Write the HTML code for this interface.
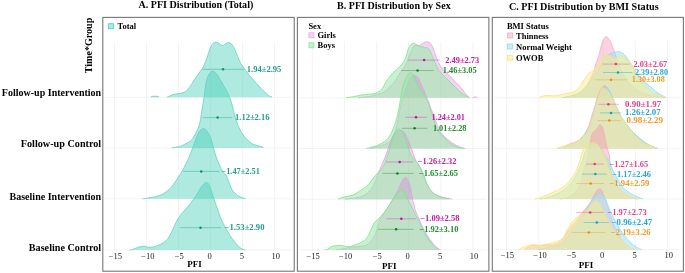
<!DOCTYPE html>
<html><head><meta charset="utf-8"><title>PFI Distribution</title>
<style>html,body{margin:0;padding:0;background:#fff;}svg{display:block;}</style>
</head><body>
<svg width="685" height="273" viewBox="0 0 685 273">
<style>
text{font-family:"Liberation Serif","Times New Roman",serif;}
.t{font-weight:bold;font-size:10.4px;fill:#000;}
.y{font-weight:bold;font-size:10.9px;fill:#000;}
.v{font-weight:bold;font-size:8.5px;stroke-width:0;}
.tk{font-size:8.5px;fill:#222;}
.lg{font-weight:bold;font-size:8.5px;fill:#000;}
.ax{font-weight:bold;font-size:9px;fill:#000;}
</style>
<rect width="685" height="273" fill="#fff"/>
<text x="138.5" y="8.2" class="t" textLength="114.8" lengthAdjust="spacingAndGlyphs">A. PFI Distribution (Total)</text>
<text x="337.1" y="8.8" class="t" textLength="113.6" lengthAdjust="spacingAndGlyphs">B. PFI Distribution by Sex</text>
<text x="508.9" y="9.8" class="t" textLength="149.7" lengthAdjust="spacingAndGlyphs">C. PFI Distribution by BMI Status</text>
<text x="1.8" y="95.9" class="y" textLength="99.4" lengthAdjust="spacingAndGlyphs">Follow-up Intervention</text>
<text x="20.8" y="147.4" class="y" textLength="80.4" lengthAdjust="spacingAndGlyphs">Follow-up Control</text>
<text x="9.5" y="199.7" class="y" textLength="91.7" lengthAdjust="spacingAndGlyphs">Baseline Intervention</text>
<text x="28.8" y="250.6" class="y" textLength="72.4" lengthAdjust="spacingAndGlyphs">Baseline Control</text>
<text transform="translate(92.2,73.3) rotate(-90)" class="y" style="font-size:10.6px" textLength="55.6" lengthAdjust="spacingAndGlyphs">Time*Group</text>
<line x1="114.54" y1="42.3" x2="114.54" y2="251.1" stroke="#ebebeb" stroke-width="0.6"/>
<line x1="146.56" y1="42.3" x2="146.56" y2="251.1" stroke="#ebebeb" stroke-width="0.6"/>
<line x1="178.58" y1="42.3" x2="178.58" y2="251.1" stroke="#ebebeb" stroke-width="0.6"/>
<line x1="210.60" y1="42.3" x2="210.60" y2="251.1" stroke="#ebebeb" stroke-width="0.6"/>
<line x1="242.62" y1="42.3" x2="242.62" y2="251.1" stroke="#ebebeb" stroke-width="0.6"/>
<line x1="274.64" y1="42.3" x2="274.64" y2="251.1" stroke="#ebebeb" stroke-width="0.6"/>
<line x1="104.8" y1="97.3" x2="291.8" y2="97.3" stroke="#ebebeb" stroke-width="0.6"/>
<line x1="104.8" y1="148.0" x2="291.8" y2="148.0" stroke="#ebebeb" stroke-width="0.6"/>
<line x1="104.8" y1="198.8" x2="291.8" y2="198.8" stroke="#ebebeb" stroke-width="0.6"/>
<line x1="104.8" y1="250.1" x2="291.8" y2="250.1" stroke="#ebebeb" stroke-width="0.6"/>
<line x1="312.34" y1="41.3" x2="312.34" y2="250.9" stroke="#ebebeb" stroke-width="0.6"/>
<line x1="344.46" y1="41.3" x2="344.46" y2="250.9" stroke="#ebebeb" stroke-width="0.6"/>
<line x1="376.58" y1="41.3" x2="376.58" y2="250.9" stroke="#ebebeb" stroke-width="0.6"/>
<line x1="408.70" y1="41.3" x2="408.70" y2="250.9" stroke="#ebebeb" stroke-width="0.6"/>
<line x1="440.82" y1="41.3" x2="440.82" y2="250.9" stroke="#ebebeb" stroke-width="0.6"/>
<line x1="472.94" y1="41.3" x2="472.94" y2="250.9" stroke="#ebebeb" stroke-width="0.6"/>
<line x1="299.5" y1="97.8" x2="486.9" y2="97.8" stroke="#ebebeb" stroke-width="0.6"/>
<line x1="299.5" y1="148.5" x2="486.9" y2="148.5" stroke="#ebebeb" stroke-width="0.6"/>
<line x1="299.5" y1="199.2" x2="486.9" y2="199.2" stroke="#ebebeb" stroke-width="0.6"/>
<line x1="299.5" y1="249.9" x2="486.9" y2="249.9" stroke="#ebebeb" stroke-width="0.6"/>
<line x1="506.64" y1="40.5" x2="506.64" y2="250.6" stroke="#ebebeb" stroke-width="0.6"/>
<line x1="538.81" y1="40.5" x2="538.81" y2="250.6" stroke="#ebebeb" stroke-width="0.6"/>
<line x1="570.98" y1="40.5" x2="570.98" y2="250.6" stroke="#ebebeb" stroke-width="0.6"/>
<line x1="603.15" y1="40.5" x2="603.15" y2="250.6" stroke="#ebebeb" stroke-width="0.6"/>
<line x1="635.32" y1="40.5" x2="635.32" y2="250.6" stroke="#ebebeb" stroke-width="0.6"/>
<line x1="667.49" y1="40.5" x2="667.49" y2="250.6" stroke="#ebebeb" stroke-width="0.6"/>
<line x1="494.1" y1="97.7" x2="681.8" y2="97.7" stroke="#ebebeb" stroke-width="0.6"/>
<line x1="494.1" y1="148.4" x2="681.8" y2="148.4" stroke="#ebebeb" stroke-width="0.6"/>
<line x1="494.1" y1="199.0" x2="681.8" y2="199.0" stroke="#ebebeb" stroke-width="0.6"/>
<line x1="494.1" y1="249.6" x2="681.8" y2="249.6" stroke="#ebebeb" stroke-width="0.6"/>
<path d="M150.8,97.3 C150.9,97.2 151.0,96.7 151.4,96.5 C151.8,96.3 152.4,96.3 153.0,96.3 C153.6,96.3 154.3,96.3 155.0,96.3 C155.7,96.3 156.4,96.3 157.0,96.3 C157.6,96.3 158.2,96.3 158.5,96.5 C158.8,96.7 159.0,97.2 159.1,97.3 L159.1,97.3 L150.8,97.3 Z" fill="rgba(64,206,182,0.42)"/><path d="M150.8,97.3 C150.9,97.2 151.0,96.7 151.4,96.5 C151.8,96.3 152.4,96.3 153.0,96.3 C153.6,96.3 154.3,96.3 155.0,96.3 C155.7,96.3 156.4,96.3 157.0,96.3 C157.6,96.3 158.2,96.3 158.5,96.5 C158.8,96.7 159.0,97.2 159.1,97.3" fill="none" stroke="#5fd3bf" stroke-width="0.8"/>
<path d="M166.7,97.3 C167.2,97.1 168.5,96.6 169.5,96.2 C170.5,95.8 171.9,95.1 172.9,94.7 C173.9,94.3 174.7,94.2 175.5,94.0 C176.3,93.8 177.0,93.8 178.0,93.6 C179.0,93.4 180.6,93.3 181.7,93.1 C182.8,92.8 183.8,92.5 184.6,92.1 C185.4,91.7 185.9,91.2 186.5,90.7 C187.1,90.2 187.7,89.5 188.3,88.8 C188.9,88.1 189.6,87.1 190.2,86.3 C190.8,85.5 191.2,84.8 191.9,83.7 C192.6,82.7 193.3,81.2 194.1,80.0 C194.9,78.8 195.7,77.6 196.5,76.5 C197.3,75.4 197.8,74.7 198.8,73.3 C199.8,71.9 201.7,69.8 202.7,68.1 C203.7,66.4 204.3,64.5 205.0,63.0 C205.7,61.5 206.0,60.7 206.7,58.8 C207.4,56.9 208.2,53.7 209.0,51.5 C209.8,49.3 210.6,47.2 211.4,45.7 C212.2,44.2 213.0,43.4 213.8,42.8 C214.6,42.2 215.3,42.0 216.2,42.1 C217.1,42.2 217.9,42.9 219.0,43.5 C220.1,44.1 221.4,45.5 222.6,45.5 C223.8,45.5 225.0,44.0 226.0,43.5 C227.0,43.0 227.9,42.5 228.8,42.6 C229.7,42.7 230.6,43.1 231.5,44.0 C232.4,44.9 233.2,46.6 234.0,48.0 C234.8,49.4 235.4,51.1 236.0,52.5 C236.6,53.9 236.9,54.8 237.6,56.4 C238.3,58.0 239.2,60.4 240.0,62.0 C240.8,63.6 241.4,64.5 242.4,66.0 C243.4,67.5 244.8,69.4 246.0,71.0 C247.2,72.6 248.2,73.9 249.5,75.5 C250.8,77.1 252.4,78.7 254.0,80.5 C255.6,82.3 257.5,84.5 259.0,86.2 C260.5,87.9 261.8,89.3 263.0,90.5 C264.2,91.7 265.1,92.4 266.2,93.3 C267.3,94.2 268.5,95.3 269.5,96.0 C270.5,96.7 271.7,97.1 272.1,97.3 L272.1,97.3 L166.7,97.3 Z" fill="rgba(64,206,182,0.42)"/><path d="M166.7,97.3 C167.2,97.1 168.5,96.6 169.5,96.2 C170.5,95.8 171.9,95.1 172.9,94.7 C173.9,94.3 174.7,94.2 175.5,94.0 C176.3,93.8 177.0,93.8 178.0,93.6 C179.0,93.4 180.6,93.3 181.7,93.1 C182.8,92.8 183.8,92.5 184.6,92.1 C185.4,91.7 185.9,91.2 186.5,90.7 C187.1,90.2 187.7,89.5 188.3,88.8 C188.9,88.1 189.6,87.1 190.2,86.3 C190.8,85.5 191.2,84.8 191.9,83.7 C192.6,82.7 193.3,81.2 194.1,80.0 C194.9,78.8 195.7,77.6 196.5,76.5 C197.3,75.4 197.8,74.7 198.8,73.3 C199.8,71.9 201.7,69.8 202.7,68.1 C203.7,66.4 204.3,64.5 205.0,63.0 C205.7,61.5 206.0,60.7 206.7,58.8 C207.4,56.9 208.2,53.7 209.0,51.5 C209.8,49.3 210.6,47.2 211.4,45.7 C212.2,44.2 213.0,43.4 213.8,42.8 C214.6,42.2 215.3,42.0 216.2,42.1 C217.1,42.2 217.9,42.9 219.0,43.5 C220.1,44.1 221.4,45.5 222.6,45.5 C223.8,45.5 225.0,44.0 226.0,43.5 C227.0,43.0 227.9,42.5 228.8,42.6 C229.7,42.7 230.6,43.1 231.5,44.0 C232.4,44.9 233.2,46.6 234.0,48.0 C234.8,49.4 235.4,51.1 236.0,52.5 C236.6,53.9 236.9,54.8 237.6,56.4 C238.3,58.0 239.2,60.4 240.0,62.0 C240.8,63.6 241.4,64.5 242.4,66.0 C243.4,67.5 244.8,69.4 246.0,71.0 C247.2,72.6 248.2,73.9 249.5,75.5 C250.8,77.1 252.4,78.7 254.0,80.5 C255.6,82.3 257.5,84.5 259.0,86.2 C260.5,87.9 261.8,89.3 263.0,90.5 C264.2,91.7 265.1,92.4 266.2,93.3 C267.3,94.2 268.5,95.3 269.5,96.0 C270.5,96.7 271.7,97.1 272.1,97.3" fill="none" stroke="#5fd3bf" stroke-width="0.8"/>
<path d="M171.6,148.0 C172.5,147.8 175.2,147.4 177.0,147.0 C178.8,146.6 180.8,146.1 182.5,145.4 C184.2,144.7 185.4,143.9 187.0,143.0 C188.6,142.1 190.2,141.6 191.8,139.8 C193.4,138.0 195.2,134.6 196.5,132.0 C197.8,129.4 198.8,127.1 199.6,124.2 C200.4,121.3 200.7,117.9 201.2,114.8 C201.7,111.7 202.2,108.6 202.7,105.5 C203.2,102.4 203.8,99.8 204.3,96.2 C204.8,92.6 205.0,87.4 205.8,83.7 C206.6,80.0 207.7,76.4 208.9,74.3 C210.1,72.2 211.7,71.2 213.0,71.2 C214.3,71.2 215.4,72.7 216.5,74.0 C217.6,75.3 218.7,77.2 219.8,79.0 C220.9,80.8 221.9,82.7 223.0,84.5 C224.1,86.3 225.1,88.0 226.1,89.9 C227.1,91.9 228.2,93.6 229.2,96.2 C230.2,98.8 231.4,102.4 232.3,105.5 C233.2,108.6 233.6,111.7 234.5,114.8 C235.4,117.9 236.1,120.8 237.5,124.2 C238.9,127.6 240.9,131.9 243.2,135.0 C245.4,138.1 248.7,141.2 251.0,142.9 C253.3,144.7 255.2,144.8 257.0,145.5 C258.8,146.2 260.8,146.4 261.9,146.8 C263.0,147.2 263.2,147.8 263.5,148.0 L263.5,148.0 L171.6,148.0 Z" fill="rgba(64,206,182,0.42)"/><path d="M171.6,148.0 C172.5,147.8 175.2,147.4 177.0,147.0 C178.8,146.6 180.8,146.1 182.5,145.4 C184.2,144.7 185.4,143.9 187.0,143.0 C188.6,142.1 190.2,141.6 191.8,139.8 C193.4,138.0 195.2,134.6 196.5,132.0 C197.8,129.4 198.8,127.1 199.6,124.2 C200.4,121.3 200.7,117.9 201.2,114.8 C201.7,111.7 202.2,108.6 202.7,105.5 C203.2,102.4 203.8,99.8 204.3,96.2 C204.8,92.6 205.0,87.4 205.8,83.7 C206.6,80.0 207.7,76.4 208.9,74.3 C210.1,72.2 211.7,71.2 213.0,71.2 C214.3,71.2 215.4,72.7 216.5,74.0 C217.6,75.3 218.7,77.2 219.8,79.0 C220.9,80.8 221.9,82.7 223.0,84.5 C224.1,86.3 225.1,88.0 226.1,89.9 C227.1,91.9 228.2,93.6 229.2,96.2 C230.2,98.8 231.4,102.4 232.3,105.5 C233.2,108.6 233.6,111.7 234.5,114.8 C235.4,117.9 236.1,120.8 237.5,124.2 C238.9,127.6 240.9,131.9 243.2,135.0 C245.4,138.1 248.7,141.2 251.0,142.9 C253.3,144.7 255.2,144.8 257.0,145.5 C258.8,146.2 260.8,146.4 261.9,146.8 C263.0,147.2 263.2,147.8 263.5,148.0" fill="none" stroke="#5fd3bf" stroke-width="0.8"/>
<path d="M142.6,198.8 C143.5,198.7 146.1,198.3 148.0,198.0 C149.9,197.7 151.8,197.7 154.3,197.0 C156.8,196.3 160.4,195.5 163.1,194.0 C165.8,192.5 168.3,190.3 170.4,188.2 C172.5,186.1 174.1,183.5 175.5,181.5 C176.9,179.5 177.9,177.8 179.0,176.0 C180.1,174.2 181.2,173.0 182.3,171.0 C183.4,169.0 184.7,166.3 185.8,164.0 C186.9,161.7 187.8,160.1 189.0,157.3 C190.2,154.5 191.8,150.1 193.0,147.0 C194.2,143.9 195.0,141.2 196.0,138.7 C197.0,136.2 197.8,133.7 199.0,132.0 C200.2,130.3 201.9,128.9 203.2,128.7 C204.5,128.5 205.7,129.3 207.0,131.0 C208.3,132.7 209.9,135.9 211.0,138.7 C212.1,141.5 212.6,144.9 213.5,148.0 C214.4,151.1 215.3,154.5 216.3,157.3 C217.3,160.1 218.5,162.7 219.5,165.0 C220.5,167.3 221.4,169.7 222.5,171.4 C223.6,173.1 224.9,173.2 226.0,175.0 C227.1,176.8 228.0,179.9 229.0,182.3 C230.0,184.7 230.5,187.4 231.9,189.6 C233.3,191.8 236.0,194.2 237.7,195.5 C239.4,196.8 240.7,197.0 242.0,197.6 C243.3,198.2 244.9,198.6 245.5,198.8 L245.5,198.8 L142.6,198.8 Z" fill="rgba(64,206,182,0.42)"/><path d="M142.6,198.8 C143.5,198.7 146.1,198.3 148.0,198.0 C149.9,197.7 151.8,197.7 154.3,197.0 C156.8,196.3 160.4,195.5 163.1,194.0 C165.8,192.5 168.3,190.3 170.4,188.2 C172.5,186.1 174.1,183.5 175.5,181.5 C176.9,179.5 177.9,177.8 179.0,176.0 C180.1,174.2 181.2,173.0 182.3,171.0 C183.4,169.0 184.7,166.3 185.8,164.0 C186.9,161.7 187.8,160.1 189.0,157.3 C190.2,154.5 191.8,150.1 193.0,147.0 C194.2,143.9 195.0,141.2 196.0,138.7 C197.0,136.2 197.8,133.7 199.0,132.0 C200.2,130.3 201.9,128.9 203.2,128.7 C204.5,128.5 205.7,129.3 207.0,131.0 C208.3,132.7 209.9,135.9 211.0,138.7 C212.1,141.5 212.6,144.9 213.5,148.0 C214.4,151.1 215.3,154.5 216.3,157.3 C217.3,160.1 218.5,162.7 219.5,165.0 C220.5,167.3 221.4,169.7 222.5,171.4 C223.6,173.1 224.9,173.2 226.0,175.0 C227.1,176.8 228.0,179.9 229.0,182.3 C230.0,184.7 230.5,187.4 231.9,189.6 C233.3,191.8 236.0,194.2 237.7,195.5 C239.4,196.8 240.7,197.0 242.0,197.6 C243.3,198.2 244.9,198.6 245.5,198.8" fill="none" stroke="#5fd3bf" stroke-width="0.8"/>
<path d="M129.4,250.1 C130.2,249.9 132.5,249.5 134.0,249.0 C135.5,248.5 136.5,247.8 138.2,247.3 C139.9,246.8 142.3,246.2 144.0,246.2 C145.7,246.2 146.7,247.2 148.4,247.3 C150.1,247.4 151.9,247.4 154.3,246.7 C156.8,246.0 160.8,244.3 163.1,242.9 C165.4,241.5 166.8,240.1 168.3,238.0 C169.8,235.9 170.7,233.8 172.3,230.6 C173.9,227.4 175.9,222.1 177.8,218.9 C179.7,215.7 181.5,214.0 183.5,211.6 C185.5,209.2 187.7,207.0 189.8,204.3 C191.9,201.6 194.2,198.4 196.2,195.5 C198.1,192.6 199.8,188.9 201.5,186.7 C203.2,184.5 205.0,182.3 206.4,182.3 C207.8,182.3 208.8,184.5 209.9,186.7 C211.0,188.9 211.8,192.6 212.8,195.5 C213.8,198.4 214.8,201.4 215.8,204.3 C216.8,207.2 217.8,210.2 218.9,213.1 C220.0,216.0 221.0,219.0 222.4,221.9 C223.8,224.8 225.7,227.9 227.2,230.6 C228.7,233.3 229.9,235.6 231.6,238.0 C233.3,240.4 235.7,243.2 237.3,245.0 C239.0,246.8 240.2,247.8 241.5,248.6 C242.8,249.4 244.7,249.8 245.3,250.1 L245.3,250.1 L129.4,250.1 Z" fill="rgba(64,206,182,0.42)"/><path d="M129.4,250.1 C130.2,249.9 132.5,249.5 134.0,249.0 C135.5,248.5 136.5,247.8 138.2,247.3 C139.9,246.8 142.3,246.2 144.0,246.2 C145.7,246.2 146.7,247.2 148.4,247.3 C150.1,247.4 151.9,247.4 154.3,246.7 C156.8,246.0 160.8,244.3 163.1,242.9 C165.4,241.5 166.8,240.1 168.3,238.0 C169.8,235.9 170.7,233.8 172.3,230.6 C173.9,227.4 175.9,222.1 177.8,218.9 C179.7,215.7 181.5,214.0 183.5,211.6 C185.5,209.2 187.7,207.0 189.8,204.3 C191.9,201.6 194.2,198.4 196.2,195.5 C198.1,192.6 199.8,188.9 201.5,186.7 C203.2,184.5 205.0,182.3 206.4,182.3 C207.8,182.3 208.8,184.5 209.9,186.7 C211.0,188.9 211.8,192.6 212.8,195.5 C213.8,198.4 214.8,201.4 215.8,204.3 C216.8,207.2 217.8,210.2 218.9,213.1 C220.0,216.0 221.0,219.0 222.4,221.9 C223.8,224.8 225.7,227.9 227.2,230.6 C228.7,233.3 229.9,235.6 231.6,238.0 C233.3,240.4 235.7,243.2 237.3,245.0 C239.0,246.8 240.2,247.8 241.5,248.6 C242.8,249.4 244.7,249.8 245.3,250.1" fill="none" stroke="#5fd3bf" stroke-width="0.8"/>
<path d="M358.0,97.8 C359.2,97.7 362.7,97.3 365.0,97.0 C367.3,96.7 369.8,96.4 371.8,96.0 C373.8,95.6 375.1,95.1 377.0,94.5 C378.9,93.9 381.5,93.3 383.2,92.5 C384.9,91.7 385.7,90.6 387.0,89.5 C388.3,88.4 389.6,87.2 391.0,85.7 C392.4,84.2 394.1,82.4 395.4,80.5 C396.7,78.6 398.0,76.1 399.0,74.5 C400.0,72.9 400.8,72.0 401.5,71.0 C402.2,70.0 402.8,69.5 403.5,68.5 C404.2,67.5 404.9,66.2 405.5,65.0 C406.1,63.8 406.7,62.8 407.2,61.5 C407.7,60.2 408.0,58.8 408.5,57.5 C409.0,56.2 409.5,55.2 410.0,54.0 C410.5,52.8 411.0,51.6 411.5,50.5 C412.0,49.4 412.4,48.0 413.0,47.2 C413.6,46.4 414.2,45.8 415.0,45.5 C415.8,45.2 417.0,45.4 418.0,45.3 C419.0,45.2 419.8,45.3 420.8,44.9 C421.8,44.5 422.8,43.1 423.8,42.6 C424.8,42.1 425.9,41.8 426.9,41.8 C427.8,41.8 428.7,42.2 429.5,42.8 C430.3,43.4 431.3,44.5 431.9,45.5 C432.5,46.5 432.8,47.8 433.3,49.0 C433.8,50.2 434.2,51.5 434.7,52.8 C435.1,54.0 435.6,55.3 436.0,56.5 C436.4,57.7 436.9,59.1 437.4,60.2 C437.9,61.3 438.3,62.1 438.8,63.0 C439.3,63.9 439.7,64.9 440.2,65.7 C440.7,66.5 441.4,67.2 442.0,68.0 C442.6,68.8 443.1,69.5 443.9,70.3 C444.7,71.1 445.8,72.1 446.7,73.0 C447.6,73.9 448.5,74.9 449.4,75.8 C450.3,76.7 451.3,77.6 452.2,78.5 C453.1,79.4 454.1,80.4 454.9,81.3 C455.7,82.2 456.4,82.9 457.2,83.7 C457.9,84.5 458.6,85.0 459.4,85.9 C460.2,86.8 461.1,87.9 462.0,89.0 C462.9,90.1 463.7,91.4 464.5,92.5 C465.3,93.6 466.2,94.6 467.0,95.5 C467.8,96.4 469.1,97.4 469.5,97.8 L469.5,97.8 L358.0,97.8 Z" fill="rgba(218,112,214,0.3)"/><path d="M358.0,97.8 C359.2,97.7 362.7,97.3 365.0,97.0 C367.3,96.7 369.8,96.4 371.8,96.0 C373.8,95.6 375.1,95.1 377.0,94.5 C378.9,93.9 381.5,93.3 383.2,92.5 C384.9,91.7 385.7,90.6 387.0,89.5 C388.3,88.4 389.6,87.2 391.0,85.7 C392.4,84.2 394.1,82.4 395.4,80.5 C396.7,78.6 398.0,76.1 399.0,74.5 C400.0,72.9 400.8,72.0 401.5,71.0 C402.2,70.0 402.8,69.5 403.5,68.5 C404.2,67.5 404.9,66.2 405.5,65.0 C406.1,63.8 406.7,62.8 407.2,61.5 C407.7,60.2 408.0,58.8 408.5,57.5 C409.0,56.2 409.5,55.2 410.0,54.0 C410.5,52.8 411.0,51.6 411.5,50.5 C412.0,49.4 412.4,48.0 413.0,47.2 C413.6,46.4 414.2,45.8 415.0,45.5 C415.8,45.2 417.0,45.4 418.0,45.3 C419.0,45.2 419.8,45.3 420.8,44.9 C421.8,44.5 422.8,43.1 423.8,42.6 C424.8,42.1 425.9,41.8 426.9,41.8 C427.8,41.8 428.7,42.2 429.5,42.8 C430.3,43.4 431.3,44.5 431.9,45.5 C432.5,46.5 432.8,47.8 433.3,49.0 C433.8,50.2 434.2,51.5 434.7,52.8 C435.1,54.0 435.6,55.3 436.0,56.5 C436.4,57.7 436.9,59.1 437.4,60.2 C437.9,61.3 438.3,62.1 438.8,63.0 C439.3,63.9 439.7,64.9 440.2,65.7 C440.7,66.5 441.4,67.2 442.0,68.0 C442.6,68.8 443.1,69.5 443.9,70.3 C444.7,71.1 445.8,72.1 446.7,73.0 C447.6,73.9 448.5,74.9 449.4,75.8 C450.3,76.7 451.3,77.6 452.2,78.5 C453.1,79.4 454.1,80.4 454.9,81.3 C455.7,82.2 456.4,82.9 457.2,83.7 C457.9,84.5 458.6,85.0 459.4,85.9 C460.2,86.8 461.1,87.9 462.0,89.0 C462.9,90.1 463.7,91.4 464.5,92.5 C465.3,93.6 466.2,94.6 467.0,95.5 C467.8,96.4 469.1,97.4 469.5,97.8" fill="none" stroke="#e0a2e4" stroke-width="0.8"/>
<path d="M472.5,97.8 C472.8,97.7 473.4,97.1 474.0,97.0 C474.6,96.9 475.4,96.9 476.0,97.0 C476.6,97.1 477.2,97.7 477.5,97.8 L477.5,97.8 L472.5,97.8 Z" fill="rgba(218,112,214,0.3)"/><path d="M472.5,97.8 C472.8,97.7 473.4,97.1 474.0,97.0 C474.6,96.9 475.4,96.9 476.0,97.0 C476.6,97.1 477.2,97.7 477.5,97.8" fill="none" stroke="#e0a2e4" stroke-width="0.8"/>
<path d="M345.5,97.8 C346.6,97.7 349.1,97.4 352.0,96.9 C354.9,96.4 360.0,95.2 362.7,94.8 C365.4,94.4 366.1,94.5 368.0,94.3 C369.9,94.1 372.4,94.0 374.0,93.7 C375.6,93.4 376.4,92.9 377.5,92.3 C378.6,91.7 379.9,91.3 380.9,90.3 C381.9,89.3 382.5,88.2 383.5,86.5 C384.5,84.8 385.9,81.7 386.9,80.2 C387.8,78.7 388.3,78.6 389.2,77.5 C390.1,76.4 391.1,74.8 392.3,73.6 C393.5,72.3 394.9,71.2 396.2,70.0 C397.5,68.8 398.9,67.4 400.0,66.2 C401.1,65.0 402.2,64.1 403.1,62.8 C404.0,61.5 404.9,59.8 405.5,58.5 C406.1,57.2 406.2,56.0 406.5,55.0 C406.8,54.0 406.9,53.4 407.2,52.5 C407.4,51.6 407.7,50.3 408.0,49.5 C408.3,48.7 408.4,48.2 408.8,47.5 C409.2,46.8 410.0,45.9 410.5,45.2 C411.0,44.6 411.4,43.9 412.0,43.6 C412.6,43.3 413.2,43.2 413.8,43.3 C414.4,43.4 415.0,43.7 415.5,44.0 C416.0,44.3 416.4,44.6 416.9,44.9 C417.4,45.2 418.0,45.5 418.5,45.8 C419.0,46.1 419.3,46.3 420.0,46.5 C420.7,46.7 421.7,46.8 422.5,47.0 C423.3,47.2 424.0,47.4 424.6,47.5 C425.2,47.6 425.9,47.8 426.3,47.8 C426.8,47.8 426.9,47.4 427.3,47.6 C427.7,47.8 428.3,48.6 428.8,49.2 C429.3,49.8 429.7,50.2 430.1,51.0 C430.6,51.8 431.1,52.9 431.5,54.0 C431.9,55.1 432.4,56.3 432.8,57.4 C433.2,58.5 433.7,59.6 434.2,60.7 C434.7,61.8 435.1,62.9 435.6,63.9 C436.1,64.9 436.6,65.9 437.0,66.8 C437.4,67.7 437.9,68.6 438.3,69.4 C438.8,70.2 439.2,70.8 439.7,71.4 C440.2,72.0 440.5,72.3 441.1,73.0 C441.7,73.7 442.6,74.6 443.4,75.4 C444.2,76.2 444.9,76.8 445.7,77.6 C446.5,78.3 447.2,79.1 448.0,79.9 C448.8,80.7 449.5,81.4 450.3,82.2 C451.1,83.0 452.1,84.1 453.0,85.0 C453.9,85.9 454.9,86.8 455.8,87.7 C456.7,88.6 457.6,89.5 458.5,90.3 C459.4,91.1 460.4,91.9 461.5,92.8 C462.6,93.7 463.7,94.7 465.0,95.5 C466.3,96.3 468.8,97.4 469.5,97.8 L469.5,97.8 L345.5,97.8 Z" fill="rgba(151,233,164,0.55)"/><path d="M345.5,97.8 C346.6,97.7 349.1,97.4 352.0,96.9 C354.9,96.4 360.0,95.2 362.7,94.8 C365.4,94.4 366.1,94.5 368.0,94.3 C369.9,94.1 372.4,94.0 374.0,93.7 C375.6,93.4 376.4,92.9 377.5,92.3 C378.6,91.7 379.9,91.3 380.9,90.3 C381.9,89.3 382.5,88.2 383.5,86.5 C384.5,84.8 385.9,81.7 386.9,80.2 C387.8,78.7 388.3,78.6 389.2,77.5 C390.1,76.4 391.1,74.8 392.3,73.6 C393.5,72.3 394.9,71.2 396.2,70.0 C397.5,68.8 398.9,67.4 400.0,66.2 C401.1,65.0 402.2,64.1 403.1,62.8 C404.0,61.5 404.9,59.8 405.5,58.5 C406.1,57.2 406.2,56.0 406.5,55.0 C406.8,54.0 406.9,53.4 407.2,52.5 C407.4,51.6 407.7,50.3 408.0,49.5 C408.3,48.7 408.4,48.2 408.8,47.5 C409.2,46.8 410.0,45.9 410.5,45.2 C411.0,44.6 411.4,43.9 412.0,43.6 C412.6,43.3 413.2,43.2 413.8,43.3 C414.4,43.4 415.0,43.7 415.5,44.0 C416.0,44.3 416.4,44.6 416.9,44.9 C417.4,45.2 418.0,45.5 418.5,45.8 C419.0,46.1 419.3,46.3 420.0,46.5 C420.7,46.7 421.7,46.8 422.5,47.0 C423.3,47.2 424.0,47.4 424.6,47.5 C425.2,47.6 425.9,47.8 426.3,47.8 C426.8,47.8 426.9,47.4 427.3,47.6 C427.7,47.8 428.3,48.6 428.8,49.2 C429.3,49.8 429.7,50.2 430.1,51.0 C430.6,51.8 431.1,52.9 431.5,54.0 C431.9,55.1 432.4,56.3 432.8,57.4 C433.2,58.5 433.7,59.6 434.2,60.7 C434.7,61.8 435.1,62.9 435.6,63.9 C436.1,64.9 436.6,65.9 437.0,66.8 C437.4,67.7 437.9,68.6 438.3,69.4 C438.8,70.2 439.2,70.8 439.7,71.4 C440.2,72.0 440.5,72.3 441.1,73.0 C441.7,73.7 442.6,74.6 443.4,75.4 C444.2,76.2 444.9,76.8 445.7,77.6 C446.5,78.3 447.2,79.1 448.0,79.9 C448.8,80.7 449.5,81.4 450.3,82.2 C451.1,83.0 452.1,84.1 453.0,85.0 C453.9,85.9 454.9,86.8 455.8,87.7 C456.7,88.6 457.6,89.5 458.5,90.3 C459.4,91.1 460.4,91.9 461.5,92.8 C462.6,93.7 463.7,94.7 465.0,95.5 C466.3,96.3 468.8,97.4 469.5,97.8" fill="none" stroke="#7be38d" stroke-width="0.8"/>
<path d="M370.0,148.5 C371.4,148.2 376.1,147.2 378.3,146.6 C380.5,146.0 381.5,145.6 383.0,145.0 C384.5,144.4 386.2,143.7 387.4,143.0 C388.6,142.3 389.2,141.8 390.0,141.0 C390.8,140.2 391.2,139.8 392.0,138.4 C392.8,137.1 394.1,134.8 394.8,132.9 C395.6,131.0 396.0,129.0 396.5,127.0 C397.0,125.0 397.4,123.2 397.8,121.0 C398.2,118.8 398.7,116.5 399.2,114.0 C399.7,111.5 400.1,108.3 400.6,106.0 C401.1,103.7 401.5,101.8 402.0,100.0 C402.5,98.2 402.9,96.7 403.5,95.0 C404.1,93.3 404.8,91.6 405.4,90.0 C405.9,88.4 406.3,87.0 406.8,85.5 C407.3,84.0 407.9,82.3 408.5,81.0 C409.1,79.7 409.9,78.4 410.5,77.5 C411.1,76.6 411.8,76.1 412.4,75.8 C413.0,75.5 413.5,75.3 414.2,75.4 C414.9,75.5 415.7,75.8 416.5,76.3 C417.3,76.8 418.2,77.5 418.8,78.5 C419.4,79.5 419.6,81.0 420.1,82.3 C420.6,83.5 421.3,84.8 421.9,86.0 C422.5,87.2 423.1,88.4 423.7,89.6 C424.2,90.8 424.7,92.0 425.2,93.2 C425.7,94.4 426.1,95.9 426.5,96.9 C426.9,98.0 427.2,98.7 427.6,99.5 C428.0,100.3 428.2,100.4 428.6,101.5 C429.0,102.6 429.5,104.6 430.0,106.0 C430.5,107.4 430.9,108.6 431.5,110.0 C432.1,111.4 432.9,112.9 433.5,114.5 C434.1,116.1 434.6,117.8 435.2,119.5 C435.8,121.2 436.4,123.0 437.0,124.5 C437.6,126.0 437.8,127.3 438.5,128.6 C439.2,129.9 440.0,131.2 441.0,132.5 C442.0,133.8 443.2,135.2 444.5,136.5 C445.8,137.8 447.4,139.2 449.0,140.5 C450.6,141.8 452.3,143.0 454.0,144.0 C455.7,145.0 457.3,145.8 459.0,146.5 C460.7,147.2 463.2,148.2 464.0,148.5 L464.0,148.5 L370.0,148.5 Z" fill="rgba(218,112,214,0.3)"/><path d="M370.0,148.5 C371.4,148.2 376.1,147.2 378.3,146.6 C380.5,146.0 381.5,145.6 383.0,145.0 C384.5,144.4 386.2,143.7 387.4,143.0 C388.6,142.3 389.2,141.8 390.0,141.0 C390.8,140.2 391.2,139.8 392.0,138.4 C392.8,137.1 394.1,134.8 394.8,132.9 C395.6,131.0 396.0,129.0 396.5,127.0 C397.0,125.0 397.4,123.2 397.8,121.0 C398.2,118.8 398.7,116.5 399.2,114.0 C399.7,111.5 400.1,108.3 400.6,106.0 C401.1,103.7 401.5,101.8 402.0,100.0 C402.5,98.2 402.9,96.7 403.5,95.0 C404.1,93.3 404.8,91.6 405.4,90.0 C405.9,88.4 406.3,87.0 406.8,85.5 C407.3,84.0 407.9,82.3 408.5,81.0 C409.1,79.7 409.9,78.4 410.5,77.5 C411.1,76.6 411.8,76.1 412.4,75.8 C413.0,75.5 413.5,75.3 414.2,75.4 C414.9,75.5 415.7,75.8 416.5,76.3 C417.3,76.8 418.2,77.5 418.8,78.5 C419.4,79.5 419.6,81.0 420.1,82.3 C420.6,83.5 421.3,84.8 421.9,86.0 C422.5,87.2 423.1,88.4 423.7,89.6 C424.2,90.8 424.7,92.0 425.2,93.2 C425.7,94.4 426.1,95.9 426.5,96.9 C426.9,98.0 427.2,98.7 427.6,99.5 C428.0,100.3 428.2,100.4 428.6,101.5 C429.0,102.6 429.5,104.6 430.0,106.0 C430.5,107.4 430.9,108.6 431.5,110.0 C432.1,111.4 432.9,112.9 433.5,114.5 C434.1,116.1 434.6,117.8 435.2,119.5 C435.8,121.2 436.4,123.0 437.0,124.5 C437.6,126.0 437.8,127.3 438.5,128.6 C439.2,129.9 440.0,131.2 441.0,132.5 C442.0,133.8 443.2,135.2 444.5,136.5 C445.8,137.8 447.4,139.2 449.0,140.5 C450.6,141.8 452.3,143.0 454.0,144.0 C455.7,145.0 457.3,145.8 459.0,146.5 C460.7,147.2 463.2,148.2 464.0,148.5" fill="none" stroke="#e0a2e4" stroke-width="0.8"/>
<path d="M366.0,148.5 C366.8,148.3 369.2,147.7 371.0,147.2 C372.8,146.7 374.9,146.2 376.5,145.7 C378.1,145.2 379.1,144.7 380.3,144.1 C381.5,143.5 382.7,142.8 383.8,142.1 C384.9,141.3 385.9,140.5 386.8,139.6 C387.7,138.7 388.6,137.7 389.3,136.6 C390.1,135.5 390.7,134.4 391.3,133.2 C391.9,132.0 392.4,130.6 392.9,129.3 C393.4,128.0 393.9,126.8 394.4,125.6 C394.9,124.4 395.3,123.2 395.7,122.0 C396.1,120.8 396.4,119.5 396.7,118.3 C397.0,117.1 397.2,115.8 397.5,114.6 C397.8,113.4 398.1,112.2 398.3,111.0 C398.6,109.8 398.8,108.5 399.0,107.3 C399.2,106.1 399.5,104.8 399.7,103.6 C399.9,102.4 400.1,101.4 400.3,100.0 C400.6,98.6 400.9,96.8 401.2,95.0 C401.5,93.2 401.9,91.2 402.3,89.5 C402.7,87.8 403.1,86.1 403.6,84.5 C404.1,82.9 404.8,81.5 405.4,80.0 C406.0,78.5 406.7,77.0 407.4,75.8 C408.1,74.6 409.1,73.1 409.8,72.7 C410.5,72.3 411.0,73.0 411.6,73.4 C412.2,73.8 412.7,74.5 413.2,75.3 C413.7,76.1 414.0,77.1 414.5,78.2 C415.0,79.3 415.4,80.7 416.0,82.0 C416.6,83.3 417.4,84.7 418.2,86.0 C418.9,87.3 419.7,88.6 420.5,89.8 C421.3,91.0 422.1,92.2 422.8,93.3 C423.5,94.4 424.2,95.3 424.8,96.2 C425.4,97.1 426.0,97.9 426.5,98.8 C427.0,99.7 427.3,100.5 427.7,101.5 C428.1,102.5 428.4,103.4 428.8,104.5 C429.2,105.6 429.5,106.8 429.8,107.9 C430.1,109.0 430.5,110.0 430.9,111.0 C431.2,112.0 431.5,112.6 431.9,113.7 C432.3,114.8 432.7,116.1 433.2,117.5 C433.7,118.9 434.2,120.3 434.7,122.0 C435.2,123.7 435.7,125.9 436.3,127.5 C436.9,129.1 437.7,130.3 438.5,131.5 C439.3,132.7 440.1,133.5 441.0,134.5 C441.9,135.5 443.2,136.4 444.2,137.4 C445.2,138.4 446.2,139.6 447.2,140.6 C448.2,141.6 449.1,142.6 450.2,143.4 C451.3,144.2 452.6,144.9 453.8,145.5 C455.0,146.1 456.0,146.7 457.3,147.1 C458.6,147.5 460.1,147.8 461.5,148.0 C462.9,148.2 464.8,148.4 465.4,148.5 L465.4,148.5 L366.0,148.5 Z" fill="rgba(151,233,164,0.55)"/><path d="M366.0,148.5 C366.8,148.3 369.2,147.7 371.0,147.2 C372.8,146.7 374.9,146.2 376.5,145.7 C378.1,145.2 379.1,144.7 380.3,144.1 C381.5,143.5 382.7,142.8 383.8,142.1 C384.9,141.3 385.9,140.5 386.8,139.6 C387.7,138.7 388.6,137.7 389.3,136.6 C390.1,135.5 390.7,134.4 391.3,133.2 C391.9,132.0 392.4,130.6 392.9,129.3 C393.4,128.0 393.9,126.8 394.4,125.6 C394.9,124.4 395.3,123.2 395.7,122.0 C396.1,120.8 396.4,119.5 396.7,118.3 C397.0,117.1 397.2,115.8 397.5,114.6 C397.8,113.4 398.1,112.2 398.3,111.0 C398.6,109.8 398.8,108.5 399.0,107.3 C399.2,106.1 399.5,104.8 399.7,103.6 C399.9,102.4 400.1,101.4 400.3,100.0 C400.6,98.6 400.9,96.8 401.2,95.0 C401.5,93.2 401.9,91.2 402.3,89.5 C402.7,87.8 403.1,86.1 403.6,84.5 C404.1,82.9 404.8,81.5 405.4,80.0 C406.0,78.5 406.7,77.0 407.4,75.8 C408.1,74.6 409.1,73.1 409.8,72.7 C410.5,72.3 411.0,73.0 411.6,73.4 C412.2,73.8 412.7,74.5 413.2,75.3 C413.7,76.1 414.0,77.1 414.5,78.2 C415.0,79.3 415.4,80.7 416.0,82.0 C416.6,83.3 417.4,84.7 418.2,86.0 C418.9,87.3 419.7,88.6 420.5,89.8 C421.3,91.0 422.1,92.2 422.8,93.3 C423.5,94.4 424.2,95.3 424.8,96.2 C425.4,97.1 426.0,97.9 426.5,98.8 C427.0,99.7 427.3,100.5 427.7,101.5 C428.1,102.5 428.4,103.4 428.8,104.5 C429.2,105.6 429.5,106.8 429.8,107.9 C430.1,109.0 430.5,110.0 430.9,111.0 C431.2,112.0 431.5,112.6 431.9,113.7 C432.3,114.8 432.7,116.1 433.2,117.5 C433.7,118.9 434.2,120.3 434.7,122.0 C435.2,123.7 435.7,125.9 436.3,127.5 C436.9,129.1 437.7,130.3 438.5,131.5 C439.3,132.7 440.1,133.5 441.0,134.5 C441.9,135.5 443.2,136.4 444.2,137.4 C445.2,138.4 446.2,139.6 447.2,140.6 C448.2,141.6 449.1,142.6 450.2,143.4 C451.3,144.2 452.6,144.9 453.8,145.5 C455.0,146.1 456.0,146.7 457.3,147.1 C458.6,147.5 460.1,147.8 461.5,148.0 C462.9,148.2 464.8,148.4 465.4,148.5" fill="none" stroke="#7be38d" stroke-width="0.8"/>
<path d="M345.0,199.2 C345.8,199.1 348.2,198.7 350.0,198.5 C351.8,198.3 354.0,198.2 356.0,197.8 C358.0,197.5 360.3,197.0 362.0,196.4 C363.7,195.8 364.9,194.9 366.0,194.2 C367.1,193.5 367.8,192.8 368.6,192.0 C369.4,191.2 370.3,190.4 371.0,189.5 C371.7,188.6 372.3,187.7 373.0,186.5 C373.7,185.3 374.4,183.8 375.0,182.5 C375.6,181.2 375.9,180.0 376.3,178.8 C376.7,177.6 377.1,176.6 377.5,175.5 C377.9,174.4 378.1,173.7 378.7,172.2 C379.3,170.7 380.2,168.4 381.0,166.5 C381.8,164.6 382.7,162.9 383.5,161.0 C384.3,159.1 385.2,157.0 386.0,155.0 C386.8,153.0 387.3,151.0 388.0,149.0 C388.7,147.0 389.2,145.0 390.0,143.0 C390.8,141.0 391.7,138.7 392.5,137.0 C393.3,135.3 394.1,134.0 395.0,133.0 C395.9,132.0 397.0,131.3 398.0,130.8 C399.0,130.3 400.1,130.1 401.0,130.2 C401.9,130.3 402.8,130.9 403.5,131.5 C404.2,132.1 404.8,132.7 405.5,134.0 C406.2,135.3 407.2,137.5 408.0,139.5 C408.8,141.5 409.8,144.1 410.5,146.0 C411.2,147.9 411.7,149.3 412.3,151.0 C412.9,152.7 413.4,154.3 414.0,156.0 C414.6,157.7 415.2,159.5 416.0,161.0 C416.8,162.5 417.8,163.7 418.5,165.0 C419.2,166.3 419.8,167.7 420.5,169.0 C421.2,170.3 421.9,171.7 422.5,173.0 C423.1,174.3 423.5,175.8 424.0,177.0 C424.5,178.2 425.0,179.3 425.5,180.5 C426.0,181.7 426.5,182.8 427.0,184.0 C427.5,185.2 428.1,186.4 428.7,187.5 C429.3,188.6 429.9,189.5 430.5,190.3 C431.1,191.1 431.8,191.8 432.5,192.5 C433.2,193.2 434.1,193.8 435.0,194.3 C435.9,194.9 436.9,195.4 438.0,195.8 C439.1,196.2 440.3,196.7 441.5,197.0 C442.7,197.3 443.8,197.6 445.0,197.8 C446.2,198.0 447.3,198.1 448.5,198.3 C449.7,198.5 451.4,199.0 452.0,199.2 L452.0,199.2 L345.0,199.2 Z" fill="rgba(218,112,214,0.3)"/><path d="M345.0,199.2 C345.8,199.1 348.2,198.7 350.0,198.5 C351.8,198.3 354.0,198.2 356.0,197.8 C358.0,197.5 360.3,197.0 362.0,196.4 C363.7,195.8 364.9,194.9 366.0,194.2 C367.1,193.5 367.8,192.8 368.6,192.0 C369.4,191.2 370.3,190.4 371.0,189.5 C371.7,188.6 372.3,187.7 373.0,186.5 C373.7,185.3 374.4,183.8 375.0,182.5 C375.6,181.2 375.9,180.0 376.3,178.8 C376.7,177.6 377.1,176.6 377.5,175.5 C377.9,174.4 378.1,173.7 378.7,172.2 C379.3,170.7 380.2,168.4 381.0,166.5 C381.8,164.6 382.7,162.9 383.5,161.0 C384.3,159.1 385.2,157.0 386.0,155.0 C386.8,153.0 387.3,151.0 388.0,149.0 C388.7,147.0 389.2,145.0 390.0,143.0 C390.8,141.0 391.7,138.7 392.5,137.0 C393.3,135.3 394.1,134.0 395.0,133.0 C395.9,132.0 397.0,131.3 398.0,130.8 C399.0,130.3 400.1,130.1 401.0,130.2 C401.9,130.3 402.8,130.9 403.5,131.5 C404.2,132.1 404.8,132.7 405.5,134.0 C406.2,135.3 407.2,137.5 408.0,139.5 C408.8,141.5 409.8,144.1 410.5,146.0 C411.2,147.9 411.7,149.3 412.3,151.0 C412.9,152.7 413.4,154.3 414.0,156.0 C414.6,157.7 415.2,159.5 416.0,161.0 C416.8,162.5 417.8,163.7 418.5,165.0 C419.2,166.3 419.8,167.7 420.5,169.0 C421.2,170.3 421.9,171.7 422.5,173.0 C423.1,174.3 423.5,175.8 424.0,177.0 C424.5,178.2 425.0,179.3 425.5,180.5 C426.0,181.7 426.5,182.8 427.0,184.0 C427.5,185.2 428.1,186.4 428.7,187.5 C429.3,188.6 429.9,189.5 430.5,190.3 C431.1,191.1 431.8,191.8 432.5,192.5 C433.2,193.2 434.1,193.8 435.0,194.3 C435.9,194.9 436.9,195.4 438.0,195.8 C439.1,196.2 440.3,196.7 441.5,197.0 C442.7,197.3 443.8,197.6 445.0,197.8 C446.2,198.0 447.3,198.1 448.5,198.3 C449.7,198.5 451.4,199.0 452.0,199.2" fill="none" stroke="#e0a2e4" stroke-width="0.8"/>
<path d="M338.0,199.2 C338.5,199.0 339.7,198.4 341.0,198.0 C342.3,197.6 344.2,197.0 346.0,196.6 C347.8,196.2 349.8,196.0 351.5,195.5 C353.2,195.0 354.6,194.3 356.0,193.5 C357.4,192.7 358.6,191.7 359.8,190.9 C361.0,190.1 362.1,189.4 363.2,188.7 C364.3,188.0 365.4,187.4 366.4,186.5 C367.4,185.6 368.4,184.6 369.3,183.5 C370.2,182.4 371.1,181.0 371.9,179.9 C372.7,178.8 373.5,177.9 374.2,177.0 C374.9,176.1 375.6,175.2 376.3,174.4 C377.0,173.6 377.7,173.0 378.3,172.3 C378.9,171.7 379.4,171.3 380.1,170.5 C380.8,169.7 381.8,168.6 382.5,167.5 C383.2,166.4 383.9,165.2 384.5,164.0 C385.1,162.8 385.5,161.3 386.0,160.0 C386.5,158.7 387.0,157.3 387.5,156.0 C388.0,154.7 388.4,153.3 388.8,152.0 C389.2,150.7 389.6,149.4 390.0,148.0 C390.4,146.6 390.8,145.0 391.2,143.5 C391.6,142.0 392.1,140.4 392.5,139.0 C392.9,137.6 393.4,136.2 393.8,135.0 C394.2,133.8 394.7,132.8 395.2,132.0 C395.7,131.2 396.2,130.5 396.8,130.0 C397.4,129.5 398.0,129.2 398.6,129.2 C399.2,129.2 400.0,129.4 400.6,129.9 C401.2,130.4 401.9,131.2 402.5,132.3 C403.1,133.4 403.9,135.1 404.5,136.5 C405.1,137.9 405.6,139.4 406.2,141.0 C406.8,142.6 407.3,144.3 407.8,146.0 C408.3,147.7 408.8,149.5 409.3,151.0 C409.8,152.5 410.3,153.8 411.0,155.0 C411.7,156.2 412.5,157.5 413.3,158.5 C414.1,159.5 415.1,160.2 415.8,161.0 C416.6,161.8 417.2,162.7 417.8,163.5 C418.4,164.3 419.0,165.2 419.6,166.1 C420.2,167.0 420.7,168.2 421.2,169.2 C421.7,170.2 422.2,171.3 422.7,172.3 C423.1,173.3 423.5,174.3 423.9,175.3 C424.3,176.3 424.6,177.4 425.0,178.4 C425.4,179.4 425.7,180.5 426.1,181.5 C426.5,182.5 426.9,183.6 427.3,184.6 C427.7,185.6 428.2,186.6 428.7,187.5 C429.2,188.4 429.7,189.2 430.3,190.0 C430.9,190.8 431.6,191.5 432.2,192.1 C432.8,192.7 433.4,193.2 434.2,193.8 C435.0,194.4 436.2,195.0 437.2,195.5 C438.2,196.0 439.3,196.5 440.3,196.9 C441.3,197.3 442.4,197.6 443.4,197.8 C444.4,198.1 445.6,198.2 446.5,198.4 C447.4,198.6 448.6,199.1 449.0,199.2 L449.0,199.2 L338.0,199.2 Z" fill="rgba(151,233,164,0.55)"/><path d="M338.0,199.2 C338.5,199.0 339.7,198.4 341.0,198.0 C342.3,197.6 344.2,197.0 346.0,196.6 C347.8,196.2 349.8,196.0 351.5,195.5 C353.2,195.0 354.6,194.3 356.0,193.5 C357.4,192.7 358.6,191.7 359.8,190.9 C361.0,190.1 362.1,189.4 363.2,188.7 C364.3,188.0 365.4,187.4 366.4,186.5 C367.4,185.6 368.4,184.6 369.3,183.5 C370.2,182.4 371.1,181.0 371.9,179.9 C372.7,178.8 373.5,177.9 374.2,177.0 C374.9,176.1 375.6,175.2 376.3,174.4 C377.0,173.6 377.7,173.0 378.3,172.3 C378.9,171.7 379.4,171.3 380.1,170.5 C380.8,169.7 381.8,168.6 382.5,167.5 C383.2,166.4 383.9,165.2 384.5,164.0 C385.1,162.8 385.5,161.3 386.0,160.0 C386.5,158.7 387.0,157.3 387.5,156.0 C388.0,154.7 388.4,153.3 388.8,152.0 C389.2,150.7 389.6,149.4 390.0,148.0 C390.4,146.6 390.8,145.0 391.2,143.5 C391.6,142.0 392.1,140.4 392.5,139.0 C392.9,137.6 393.4,136.2 393.8,135.0 C394.2,133.8 394.7,132.8 395.2,132.0 C395.7,131.2 396.2,130.5 396.8,130.0 C397.4,129.5 398.0,129.2 398.6,129.2 C399.2,129.2 400.0,129.4 400.6,129.9 C401.2,130.4 401.9,131.2 402.5,132.3 C403.1,133.4 403.9,135.1 404.5,136.5 C405.1,137.9 405.6,139.4 406.2,141.0 C406.8,142.6 407.3,144.3 407.8,146.0 C408.3,147.7 408.8,149.5 409.3,151.0 C409.8,152.5 410.3,153.8 411.0,155.0 C411.7,156.2 412.5,157.5 413.3,158.5 C414.1,159.5 415.1,160.2 415.8,161.0 C416.6,161.8 417.2,162.7 417.8,163.5 C418.4,164.3 419.0,165.2 419.6,166.1 C420.2,167.0 420.7,168.2 421.2,169.2 C421.7,170.2 422.2,171.3 422.7,172.3 C423.1,173.3 423.5,174.3 423.9,175.3 C424.3,176.3 424.6,177.4 425.0,178.4 C425.4,179.4 425.7,180.5 426.1,181.5 C426.5,182.5 426.9,183.6 427.3,184.6 C427.7,185.6 428.2,186.6 428.7,187.5 C429.2,188.4 429.7,189.2 430.3,190.0 C430.9,190.8 431.6,191.5 432.2,192.1 C432.8,192.7 433.4,193.2 434.2,193.8 C435.0,194.4 436.2,195.0 437.2,195.5 C438.2,196.0 439.3,196.5 440.3,196.9 C441.3,197.3 442.4,197.6 443.4,197.8 C444.4,198.1 445.6,198.2 446.5,198.4 C447.4,198.6 448.6,199.1 449.0,199.2" fill="none" stroke="#7be38d" stroke-width="0.8"/>
<path d="M336.0,249.9 C337.2,249.7 340.6,249.2 343.0,248.8 C345.4,248.4 348.2,247.6 350.5,247.2 C352.8,246.8 354.8,246.8 357.0,246.6 C359.2,246.3 362.1,246.0 363.8,245.7 C365.5,245.3 366.1,245.0 367.0,244.5 C367.9,244.0 368.7,243.7 369.5,242.9 C370.3,242.1 371.2,240.9 372.0,239.8 C372.8,238.7 373.7,237.4 374.3,236.2 C374.9,235.0 375.3,233.8 375.8,232.5 C376.3,231.2 376.7,229.9 377.1,228.6 C377.5,227.3 377.7,226.1 378.0,224.8 C378.3,223.5 378.5,222.1 379.0,221.0 C379.5,219.9 380.2,219.0 380.8,218.0 C381.4,217.0 382.2,216.1 382.9,215.2 C383.6,214.2 384.2,213.2 384.8,212.3 C385.4,211.4 386.0,210.6 386.7,209.5 C387.4,208.4 388.2,207.0 389.0,205.7 C389.8,204.4 390.6,203.3 391.4,201.9 C392.2,200.5 393.1,199.2 394.0,197.5 C394.9,195.8 396.0,194.0 397.0,192.0 C398.0,190.0 399.1,187.4 400.0,185.5 C400.9,183.6 401.5,181.9 402.2,180.7 C402.9,179.5 403.4,178.8 404.0,178.3 C404.6,177.8 405.2,177.5 405.8,177.6 C406.4,177.7 407.0,178.2 407.5,179.0 C408.0,179.8 408.4,180.9 408.9,182.2 C409.3,183.4 409.8,185.0 410.2,186.5 C410.6,188.0 411.0,189.7 411.3,191.3 C411.6,192.9 411.9,194.5 412.2,196.0 C412.4,197.5 412.5,198.9 412.8,200.4 C413.1,201.9 413.6,203.5 414.0,205.0 C414.4,206.5 414.5,208.0 415.0,209.6 C415.5,211.2 416.2,212.8 417.0,214.5 C417.8,216.2 418.6,217.9 419.5,220.0 C420.4,222.1 421.4,224.8 422.5,227.0 C423.6,229.2 424.8,231.4 426.0,233.5 C427.2,235.6 428.7,237.7 430.0,239.5 C431.3,241.3 432.8,243.1 434.0,244.5 C435.2,245.9 436.4,247.1 437.5,248.0 C438.6,248.9 440.0,249.6 440.5,249.9 L440.5,249.9 L336.0,249.9 Z" fill="rgba(218,112,214,0.3)"/><path d="M336.0,249.9 C337.2,249.7 340.6,249.2 343.0,248.8 C345.4,248.4 348.2,247.6 350.5,247.2 C352.8,246.8 354.8,246.8 357.0,246.6 C359.2,246.3 362.1,246.0 363.8,245.7 C365.5,245.3 366.1,245.0 367.0,244.5 C367.9,244.0 368.7,243.7 369.5,242.9 C370.3,242.1 371.2,240.9 372.0,239.8 C372.8,238.7 373.7,237.4 374.3,236.2 C374.9,235.0 375.3,233.8 375.8,232.5 C376.3,231.2 376.7,229.9 377.1,228.6 C377.5,227.3 377.7,226.1 378.0,224.8 C378.3,223.5 378.5,222.1 379.0,221.0 C379.5,219.9 380.2,219.0 380.8,218.0 C381.4,217.0 382.2,216.1 382.9,215.2 C383.6,214.2 384.2,213.2 384.8,212.3 C385.4,211.4 386.0,210.6 386.7,209.5 C387.4,208.4 388.2,207.0 389.0,205.7 C389.8,204.4 390.6,203.3 391.4,201.9 C392.2,200.5 393.1,199.2 394.0,197.5 C394.9,195.8 396.0,194.0 397.0,192.0 C398.0,190.0 399.1,187.4 400.0,185.5 C400.9,183.6 401.5,181.9 402.2,180.7 C402.9,179.5 403.4,178.8 404.0,178.3 C404.6,177.8 405.2,177.5 405.8,177.6 C406.4,177.7 407.0,178.2 407.5,179.0 C408.0,179.8 408.4,180.9 408.9,182.2 C409.3,183.4 409.8,185.0 410.2,186.5 C410.6,188.0 411.0,189.7 411.3,191.3 C411.6,192.9 411.9,194.5 412.2,196.0 C412.4,197.5 412.5,198.9 412.8,200.4 C413.1,201.9 413.6,203.5 414.0,205.0 C414.4,206.5 414.5,208.0 415.0,209.6 C415.5,211.2 416.2,212.8 417.0,214.5 C417.8,216.2 418.6,217.9 419.5,220.0 C420.4,222.1 421.4,224.8 422.5,227.0 C423.6,229.2 424.8,231.4 426.0,233.5 C427.2,235.6 428.7,237.7 430.0,239.5 C431.3,241.3 432.8,243.1 434.0,244.5 C435.2,245.9 436.4,247.1 437.5,248.0 C438.6,248.9 440.0,249.6 440.5,249.9" fill="none" stroke="#e0a2e4" stroke-width="0.8"/>
<path d="M325.0,249.9 C325.5,249.8 326.9,249.5 328.0,249.0 C329.1,248.5 330.2,247.2 331.4,246.7 C332.6,246.2 333.7,246.0 335.0,245.8 C336.3,245.6 337.8,245.3 339.0,245.3 C340.2,245.3 341.0,245.4 342.0,245.6 C343.0,245.8 343.6,246.1 344.8,246.3 C346.1,246.5 347.8,246.9 349.5,246.7 C351.2,246.4 353.7,245.3 355.2,244.8 C356.7,244.3 357.4,244.0 358.5,243.5 C359.6,243.0 360.9,242.4 361.9,241.9 C362.9,241.4 363.7,240.9 364.5,240.3 C365.3,239.7 366.0,239.1 366.7,238.1 C367.4,237.1 368.1,235.8 368.7,234.5 C369.3,233.2 369.9,231.8 370.5,230.5 C371.1,229.2 371.8,227.9 372.4,226.6 C373.0,225.3 373.8,223.8 374.3,222.9 C374.9,222.0 375.2,221.7 375.7,221.2 C376.2,220.7 376.6,220.5 377.1,220.0 C377.7,219.5 378.4,218.8 379.0,218.2 C379.6,217.6 380.4,216.9 381.0,216.2 C381.6,215.5 382.3,214.6 382.9,213.8 C383.5,213.0 384.1,212.3 384.8,211.4 C385.5,210.5 386.4,209.3 387.2,208.2 C388.0,207.1 388.6,206.2 389.5,204.8 C390.4,203.4 391.5,201.4 392.4,200.0 C393.3,198.6 393.9,197.7 394.8,196.5 C395.7,195.3 396.8,193.9 397.6,193.0 C398.4,192.1 398.8,191.3 399.5,190.8 C400.2,190.3 401.0,189.7 401.6,189.8 C402.2,189.9 402.8,190.4 403.4,191.2 C404.0,191.9 404.5,193.0 405.2,194.3 C405.9,195.6 406.7,197.5 407.5,199.0 C408.3,200.5 409.1,202.0 409.8,203.5 C410.6,205.0 411.2,206.5 412.0,208.0 C412.8,209.5 413.5,211.1 414.3,212.6 C415.1,214.1 415.8,215.7 416.6,217.2 C417.4,218.7 418.1,220.2 418.9,221.7 C419.7,223.2 420.4,224.8 421.2,226.3 C422.0,227.8 422.7,229.5 423.5,230.9 C424.3,232.3 425.1,233.7 425.8,235.0 C426.6,236.3 427.2,237.4 428.0,238.5 C428.8,239.6 429.5,240.7 430.3,241.7 C431.1,242.7 431.7,243.6 432.6,244.6 C433.5,245.6 434.6,246.9 435.6,247.8 C436.6,248.7 438.2,249.6 438.7,249.9 L438.7,249.9 L325.0,249.9 Z" fill="rgba(151,233,164,0.55)"/><path d="M325.0,249.9 C325.5,249.8 326.9,249.5 328.0,249.0 C329.1,248.5 330.2,247.2 331.4,246.7 C332.6,246.2 333.7,246.0 335.0,245.8 C336.3,245.6 337.8,245.3 339.0,245.3 C340.2,245.3 341.0,245.4 342.0,245.6 C343.0,245.8 343.6,246.1 344.8,246.3 C346.1,246.5 347.8,246.9 349.5,246.7 C351.2,246.4 353.7,245.3 355.2,244.8 C356.7,244.3 357.4,244.0 358.5,243.5 C359.6,243.0 360.9,242.4 361.9,241.9 C362.9,241.4 363.7,240.9 364.5,240.3 C365.3,239.7 366.0,239.1 366.7,238.1 C367.4,237.1 368.1,235.8 368.7,234.5 C369.3,233.2 369.9,231.8 370.5,230.5 C371.1,229.2 371.8,227.9 372.4,226.6 C373.0,225.3 373.8,223.8 374.3,222.9 C374.9,222.0 375.2,221.7 375.7,221.2 C376.2,220.7 376.6,220.5 377.1,220.0 C377.7,219.5 378.4,218.8 379.0,218.2 C379.6,217.6 380.4,216.9 381.0,216.2 C381.6,215.5 382.3,214.6 382.9,213.8 C383.5,213.0 384.1,212.3 384.8,211.4 C385.5,210.5 386.4,209.3 387.2,208.2 C388.0,207.1 388.6,206.2 389.5,204.8 C390.4,203.4 391.5,201.4 392.4,200.0 C393.3,198.6 393.9,197.7 394.8,196.5 C395.7,195.3 396.8,193.9 397.6,193.0 C398.4,192.1 398.8,191.3 399.5,190.8 C400.2,190.3 401.0,189.7 401.6,189.8 C402.2,189.9 402.8,190.4 403.4,191.2 C404.0,191.9 404.5,193.0 405.2,194.3 C405.9,195.6 406.7,197.5 407.5,199.0 C408.3,200.5 409.1,202.0 409.8,203.5 C410.6,205.0 411.2,206.5 412.0,208.0 C412.8,209.5 413.5,211.1 414.3,212.6 C415.1,214.1 415.8,215.7 416.6,217.2 C417.4,218.7 418.1,220.2 418.9,221.7 C419.7,223.2 420.4,224.8 421.2,226.3 C422.0,227.8 422.7,229.5 423.5,230.9 C424.3,232.3 425.1,233.7 425.8,235.0 C426.6,236.3 427.2,237.4 428.0,238.5 C428.8,239.6 429.5,240.7 430.3,241.7 C431.1,242.7 431.7,243.6 432.6,244.6 C433.5,245.6 434.6,246.9 435.6,247.8 C436.6,248.7 438.2,249.6 438.7,249.9" fill="none" stroke="#7be38d" stroke-width="0.8"/>
<path d="M562.0,97.7 C562.8,97.5 565.0,97.2 567.0,96.8 C569.0,96.3 571.8,95.7 574.0,95.0 C576.2,94.3 578.2,93.6 580.0,92.5 C581.8,91.4 583.6,90.1 585.0,88.5 C586.4,86.9 587.4,84.9 588.5,83.0 C589.6,81.1 590.6,79.0 591.5,77.0 C592.4,75.0 593.2,73.5 594.0,71.0 C594.8,68.5 595.7,64.2 596.4,62.0 C597.1,59.8 597.7,60.0 598.4,57.6 C599.1,55.2 600.0,50.7 600.8,47.7 C601.6,44.8 602.4,41.7 603.3,39.9 C604.2,38.1 605.1,36.6 606.2,36.7 C607.3,36.8 608.9,38.8 609.9,40.4 C610.9,42.0 611.6,44.5 612.4,46.5 C613.2,48.5 614.0,50.6 614.8,52.7 C615.6,54.8 616.2,56.8 617.0,59.0 C617.8,61.2 618.5,63.5 619.5,66.0 C620.5,68.5 621.6,71.3 623.0,74.0 C624.4,76.7 626.0,79.6 628.0,82.0 C630.0,84.4 632.5,86.7 635.0,88.5 C637.5,90.3 640.2,91.8 643.0,93.0 C645.8,94.2 649.2,94.9 652.0,95.6 C654.8,96.2 657.8,96.6 660.0,96.9 C662.2,97.2 664.2,97.6 665.0,97.7 L665.0,97.7 L562.0,97.7 Z" fill="rgba(244,143,177,0.4)"/><path d="M562.0,97.7 C562.8,97.5 565.0,97.2 567.0,96.8 C569.0,96.3 571.8,95.7 574.0,95.0 C576.2,94.3 578.2,93.6 580.0,92.5 C581.8,91.4 583.6,90.1 585.0,88.5 C586.4,86.9 587.4,84.9 588.5,83.0 C589.6,81.1 590.6,79.0 591.5,77.0 C592.4,75.0 593.2,73.5 594.0,71.0 C594.8,68.5 595.7,64.2 596.4,62.0 C597.1,59.8 597.7,60.0 598.4,57.6 C599.1,55.2 600.0,50.7 600.8,47.7 C601.6,44.8 602.4,41.7 603.3,39.9 C604.2,38.1 605.1,36.6 606.2,36.7 C607.3,36.8 608.9,38.8 609.9,40.4 C610.9,42.0 611.6,44.5 612.4,46.5 C613.2,48.5 614.0,50.6 614.8,52.7 C615.6,54.8 616.2,56.8 617.0,59.0 C617.8,61.2 618.5,63.5 619.5,66.0 C620.5,68.5 621.6,71.3 623.0,74.0 C624.4,76.7 626.0,79.6 628.0,82.0 C630.0,84.4 632.5,86.7 635.0,88.5 C637.5,90.3 640.2,91.8 643.0,93.0 C645.8,94.2 649.2,94.9 652.0,95.6 C654.8,96.2 657.8,96.6 660.0,96.9 C662.2,97.2 664.2,97.6 665.0,97.7" fill="none" stroke="#f6a8c6" stroke-width="0.8"/>
<path d="M563.1,97.7 C563.9,97.5 566.4,97.2 568.0,96.8 C569.6,96.4 571.6,95.8 573.0,95.4 C574.4,95.0 575.4,94.7 576.5,94.3 C577.6,93.9 578.7,93.5 579.6,92.9 C580.5,92.3 581.2,91.5 582.0,90.7 C582.8,89.9 583.7,88.9 584.5,88.0 C585.3,87.1 586.2,86.1 587.0,85.1 C587.8,84.1 588.6,83.2 589.4,82.2 C590.2,81.2 591.2,80.2 592.0,79.2 C592.8,78.2 593.6,77.5 594.4,76.4 C595.2,75.3 596.1,74.0 597.0,72.5 C597.9,71.0 598.7,69.2 599.5,67.5 C600.3,65.8 601.2,63.9 602.0,62.5 C602.8,61.1 603.3,60.0 604.0,59.0 C604.7,58.0 605.2,57.2 606.0,56.5 C606.8,55.8 607.9,55.1 608.7,54.6 C609.5,54.1 610.2,53.8 611.0,53.4 C611.8,53.0 612.8,52.6 613.6,52.4 C614.4,52.1 615.2,52.0 616.0,51.9 C616.8,51.8 617.8,51.7 618.5,51.7 C619.2,51.7 619.9,51.8 620.5,52.0 C621.1,52.2 621.6,52.3 622.2,52.7 C622.8,53.1 623.4,53.6 624.0,54.2 C624.6,54.8 625.2,55.3 625.9,56.3 C626.6,57.3 627.6,58.8 628.4,60.0 C629.2,61.2 630.0,62.5 630.8,63.7 C631.6,65.0 632.3,66.3 633.0,67.5 C633.7,68.7 634.1,69.8 635.0,71.0 C635.9,72.2 637.1,73.7 638.2,75.0 C639.3,76.3 640.3,77.6 641.5,78.9 C642.7,80.2 644.2,81.5 645.6,82.7 C647.0,84.0 648.4,85.2 649.8,86.4 C651.2,87.6 652.5,88.6 653.9,89.7 C655.3,90.8 656.6,92.1 658.0,93.0 C659.4,93.9 660.6,94.5 662.0,95.3 C663.4,96.1 665.6,97.3 666.3,97.7 L666.3,97.7 L563.1,97.7 Z" fill="rgba(163,227,247,0.6)"/><path d="M563.1,97.7 C563.9,97.5 566.4,97.2 568.0,96.8 C569.6,96.4 571.6,95.8 573.0,95.4 C574.4,95.0 575.4,94.7 576.5,94.3 C577.6,93.9 578.7,93.5 579.6,92.9 C580.5,92.3 581.2,91.5 582.0,90.7 C582.8,89.9 583.7,88.9 584.5,88.0 C585.3,87.1 586.2,86.1 587.0,85.1 C587.8,84.1 588.6,83.2 589.4,82.2 C590.2,81.2 591.2,80.2 592.0,79.2 C592.8,78.2 593.6,77.5 594.4,76.4 C595.2,75.3 596.1,74.0 597.0,72.5 C597.9,71.0 598.7,69.2 599.5,67.5 C600.3,65.8 601.2,63.9 602.0,62.5 C602.8,61.1 603.3,60.0 604.0,59.0 C604.7,58.0 605.2,57.2 606.0,56.5 C606.8,55.8 607.9,55.1 608.7,54.6 C609.5,54.1 610.2,53.8 611.0,53.4 C611.8,53.0 612.8,52.6 613.6,52.4 C614.4,52.1 615.2,52.0 616.0,51.9 C616.8,51.8 617.8,51.7 618.5,51.7 C619.2,51.7 619.9,51.8 620.5,52.0 C621.1,52.2 621.6,52.3 622.2,52.7 C622.8,53.1 623.4,53.6 624.0,54.2 C624.6,54.8 625.2,55.3 625.9,56.3 C626.6,57.3 627.6,58.8 628.4,60.0 C629.2,61.2 630.0,62.5 630.8,63.7 C631.6,65.0 632.3,66.3 633.0,67.5 C633.7,68.7 634.1,69.8 635.0,71.0 C635.9,72.2 637.1,73.7 638.2,75.0 C639.3,76.3 640.3,77.6 641.5,78.9 C642.7,80.2 644.2,81.5 645.6,82.7 C647.0,84.0 648.4,85.2 649.8,86.4 C651.2,87.6 652.5,88.6 653.9,89.7 C655.3,90.8 656.6,92.1 658.0,93.0 C659.4,93.9 660.6,94.5 662.0,95.3 C663.4,96.1 665.6,97.3 666.3,97.7" fill="none" stroke="#8cdcf4" stroke-width="0.8"/>
<path d="M538.7,97.7 C539.1,97.5 539.7,97.0 541.0,96.6 C542.3,96.2 544.9,95.7 546.6,95.5 C548.3,95.3 549.6,95.7 551.0,95.7 C552.4,95.8 553.6,95.9 554.8,95.8 C556.0,95.7 556.9,95.4 558.0,95.2 C559.1,95.0 560.3,94.8 561.4,94.6 C562.5,94.4 563.7,94.1 564.8,93.9 C565.9,93.7 567.0,93.4 568.0,93.2 C569.0,93.0 569.7,92.9 570.5,92.7 C571.3,92.5 572.2,92.4 573.0,92.1 C573.8,91.8 574.5,91.5 575.2,91.1 C575.9,90.7 576.5,90.1 577.1,89.6 C577.7,89.0 578.2,88.5 578.8,87.8 C579.3,87.1 579.9,86.3 580.4,85.5 C580.9,84.7 581.5,83.8 582.0,83.0 C582.5,82.2 583.1,81.3 583.7,80.5 C584.3,79.7 584.9,78.8 585.4,78.0 C585.9,77.2 586.5,76.3 587.0,75.6 C587.5,74.9 588.2,74.1 588.7,73.6 C589.2,73.0 589.8,72.7 590.3,72.3 C590.8,71.9 591.5,71.7 592.0,71.4 C592.5,71.1 593.1,71.1 593.6,70.7 C594.1,70.3 594.8,69.5 595.3,68.8 C595.8,68.1 596.4,67.3 596.9,66.5 C597.4,65.7 598.0,64.8 598.5,64.0 C599.0,63.2 599.5,62.4 600.0,61.6 C600.5,60.8 601.0,59.7 601.5,59.0 C602.0,58.3 602.6,57.8 603.0,57.3 C603.4,56.8 603.5,56.5 604.0,56.2 C604.5,55.9 605.4,55.6 606.0,55.5 C606.6,55.4 607.1,55.4 607.8,55.5 C608.5,55.6 609.3,55.9 610.0,56.2 C610.7,56.6 611.3,57.2 612.0,57.6 C612.7,58.0 613.5,58.4 614.2,58.5 C614.9,58.6 615.3,58.3 616.0,58.0 C616.7,57.7 617.5,56.9 618.3,56.5 C619.1,56.1 619.8,55.5 620.6,55.5 C621.5,55.5 622.5,55.9 623.4,56.3 C624.3,56.7 625.0,57.2 625.8,58.0 C626.6,58.8 627.3,60.0 628.3,61.0 C629.3,62.0 630.7,62.8 631.6,64.1 C632.5,65.4 633.0,67.1 633.7,68.6 C634.4,70.1 634.9,71.7 635.7,73.2 C636.5,74.7 637.6,76.2 638.6,77.7 C639.6,79.2 640.5,80.9 641.5,82.2 C642.5,83.5 643.7,84.4 644.8,85.5 C645.9,86.6 647.0,87.8 648.1,88.8 C649.2,89.8 650.3,90.7 651.4,91.5 C652.5,92.3 653.5,93.1 654.7,93.8 C655.9,94.5 657.4,95.0 658.8,95.6 C660.2,96.1 661.9,96.8 663.0,97.1 C664.1,97.4 664.8,97.6 665.2,97.7 L665.2,97.7 L538.7,97.7 Z" fill="rgba(250,236,138,0.55)"/><path d="M538.7,97.7 C539.1,97.5 539.7,97.0 541.0,96.6 C542.3,96.2 544.9,95.7 546.6,95.5 C548.3,95.3 549.6,95.7 551.0,95.7 C552.4,95.8 553.6,95.9 554.8,95.8 C556.0,95.7 556.9,95.4 558.0,95.2 C559.1,95.0 560.3,94.8 561.4,94.6 C562.5,94.4 563.7,94.1 564.8,93.9 C565.9,93.7 567.0,93.4 568.0,93.2 C569.0,93.0 569.7,92.9 570.5,92.7 C571.3,92.5 572.2,92.4 573.0,92.1 C573.8,91.8 574.5,91.5 575.2,91.1 C575.9,90.7 576.5,90.1 577.1,89.6 C577.7,89.0 578.2,88.5 578.8,87.8 C579.3,87.1 579.9,86.3 580.4,85.5 C580.9,84.7 581.5,83.8 582.0,83.0 C582.5,82.2 583.1,81.3 583.7,80.5 C584.3,79.7 584.9,78.8 585.4,78.0 C585.9,77.2 586.5,76.3 587.0,75.6 C587.5,74.9 588.2,74.1 588.7,73.6 C589.2,73.0 589.8,72.7 590.3,72.3 C590.8,71.9 591.5,71.7 592.0,71.4 C592.5,71.1 593.1,71.1 593.6,70.7 C594.1,70.3 594.8,69.5 595.3,68.8 C595.8,68.1 596.4,67.3 596.9,66.5 C597.4,65.7 598.0,64.8 598.5,64.0 C599.0,63.2 599.5,62.4 600.0,61.6 C600.5,60.8 601.0,59.7 601.5,59.0 C602.0,58.3 602.6,57.8 603.0,57.3 C603.4,56.8 603.5,56.5 604.0,56.2 C604.5,55.9 605.4,55.6 606.0,55.5 C606.6,55.4 607.1,55.4 607.8,55.5 C608.5,55.6 609.3,55.9 610.0,56.2 C610.7,56.6 611.3,57.2 612.0,57.6 C612.7,58.0 613.5,58.4 614.2,58.5 C614.9,58.6 615.3,58.3 616.0,58.0 C616.7,57.7 617.5,56.9 618.3,56.5 C619.1,56.1 619.8,55.5 620.6,55.5 C621.5,55.5 622.5,55.9 623.4,56.3 C624.3,56.7 625.0,57.2 625.8,58.0 C626.6,58.8 627.3,60.0 628.3,61.0 C629.3,62.0 630.7,62.8 631.6,64.1 C632.5,65.4 633.0,67.1 633.7,68.6 C634.4,70.1 634.9,71.7 635.7,73.2 C636.5,74.7 637.6,76.2 638.6,77.7 C639.6,79.2 640.5,80.9 641.5,82.2 C642.5,83.5 643.7,84.4 644.8,85.5 C645.9,86.6 647.0,87.8 648.1,88.8 C649.2,89.8 650.3,90.7 651.4,91.5 C652.5,92.3 653.5,93.1 654.7,93.8 C655.9,94.5 657.4,95.0 658.8,95.6 C660.2,96.1 661.9,96.8 663.0,97.1 C664.1,97.4 664.8,97.6 665.2,97.7" fill="none" stroke="#f6e282" stroke-width="0.8"/>
<path d="M563.0,148.4 C564.0,147.7 567.0,145.2 569.0,144.2 C571.0,143.2 573.4,142.8 575.0,142.2 C576.6,141.6 577.5,141.2 578.5,140.5 C579.5,139.8 580.3,139.0 581.1,138.2 C581.9,137.4 582.6,136.6 583.3,135.8 C584.0,135.0 584.5,134.3 585.1,133.2 C585.8,132.1 586.5,130.6 587.2,129.3 C587.9,128.0 588.5,126.7 589.1,125.2 C589.7,123.7 590.1,121.9 590.6,120.2 C591.1,118.5 591.6,116.8 592.1,115.1 C592.6,113.4 593.2,111.7 593.7,110.0 C594.2,108.3 594.7,106.9 595.2,105.0 C595.8,103.1 596.3,100.6 597.0,98.5 C597.7,96.4 598.5,94.2 599.2,92.5 C600.0,90.8 600.8,89.5 601.5,88.5 C602.2,87.5 602.7,86.7 603.2,86.2 C603.7,85.7 603.9,85.5 604.4,85.6 C604.9,85.6 605.7,85.7 606.5,86.5 C607.3,87.3 608.1,88.7 609.0,90.5 C609.9,92.3 610.9,95.0 612.0,97.5 C613.1,100.0 614.3,102.9 615.5,105.5 C616.7,108.1 617.9,110.8 619.0,113.0 C620.1,115.2 621.0,116.8 622.0,118.5 C623.0,120.2 623.9,121.5 625.0,123.0 C626.1,124.5 627.3,126.1 628.5,127.5 C629.7,128.9 630.8,130.2 632.0,131.5 C633.2,132.8 634.3,133.9 635.5,135.0 C636.7,136.1 637.8,137.2 639.0,138.3 C640.2,139.4 641.6,140.5 643.0,141.5 C644.4,142.5 646.0,143.6 647.5,144.5 C649.0,145.4 650.6,146.0 652.0,146.7 C653.4,147.3 655.3,148.1 656.0,148.4 L656.0,148.4 L563.0,148.4 Z" fill="rgba(244,143,177,0.4)"/><path d="M563.0,148.4 C564.0,147.7 567.0,145.2 569.0,144.2 C571.0,143.2 573.4,142.8 575.0,142.2 C576.6,141.6 577.5,141.2 578.5,140.5 C579.5,139.8 580.3,139.0 581.1,138.2 C581.9,137.4 582.6,136.6 583.3,135.8 C584.0,135.0 584.5,134.3 585.1,133.2 C585.8,132.1 586.5,130.6 587.2,129.3 C587.9,128.0 588.5,126.7 589.1,125.2 C589.7,123.7 590.1,121.9 590.6,120.2 C591.1,118.5 591.6,116.8 592.1,115.1 C592.6,113.4 593.2,111.7 593.7,110.0 C594.2,108.3 594.7,106.9 595.2,105.0 C595.8,103.1 596.3,100.6 597.0,98.5 C597.7,96.4 598.5,94.2 599.2,92.5 C600.0,90.8 600.8,89.5 601.5,88.5 C602.2,87.5 602.7,86.7 603.2,86.2 C603.7,85.7 603.9,85.5 604.4,85.6 C604.9,85.6 605.7,85.7 606.5,86.5 C607.3,87.3 608.1,88.7 609.0,90.5 C609.9,92.3 610.9,95.0 612.0,97.5 C613.1,100.0 614.3,102.9 615.5,105.5 C616.7,108.1 617.9,110.8 619.0,113.0 C620.1,115.2 621.0,116.8 622.0,118.5 C623.0,120.2 623.9,121.5 625.0,123.0 C626.1,124.5 627.3,126.1 628.5,127.5 C629.7,128.9 630.8,130.2 632.0,131.5 C633.2,132.8 634.3,133.9 635.5,135.0 C636.7,136.1 637.8,137.2 639.0,138.3 C640.2,139.4 641.6,140.5 643.0,141.5 C644.4,142.5 646.0,143.6 647.5,144.5 C649.0,145.4 650.6,146.0 652.0,146.7 C653.4,147.3 655.3,148.1 656.0,148.4" fill="none" stroke="#f6a8c6" stroke-width="0.8"/>
<path d="M558.0,148.4 C559.3,148.1 563.5,147.3 566.0,146.5 C568.5,145.7 570.9,144.8 573.0,143.8 C575.1,142.8 576.8,141.7 578.5,140.5 C580.2,139.3 581.7,137.9 583.0,136.5 C584.3,135.1 585.4,133.7 586.5,132.0 C587.6,130.3 588.6,128.5 589.5,126.5 C590.4,124.5 591.1,122.2 591.8,120.0 C592.5,117.8 593.2,115.7 593.8,113.5 C594.4,111.3 595.0,109.2 595.6,107.0 C596.2,104.8 596.8,102.7 597.4,100.5 C598.0,98.3 598.7,95.9 599.5,94.0 C600.3,92.1 601.3,90.4 602.2,89.3 C603.1,88.2 604.2,87.4 605.1,87.2 C606.0,87.0 606.7,87.3 607.5,88.0 C608.3,88.7 609.1,89.8 610.0,91.5 C610.9,93.2 611.9,95.8 613.0,98.5 C614.1,101.2 615.5,104.7 616.7,107.5 C618.0,110.3 619.5,113.5 620.5,115.5 C621.5,117.5 622.1,118.1 623.0,119.3 C623.9,120.5 624.8,121.7 625.6,122.8 C626.4,123.9 627.2,125.0 628.0,126.0 C628.8,127.0 629.4,127.8 630.2,128.8 C631.0,129.8 632.0,131.0 633.0,132.0 C634.0,133.0 634.9,134.0 636.0,135.0 C637.1,136.0 638.3,137.0 639.5,138.0 C640.7,139.0 641.8,139.9 643.0,140.8 C644.2,141.7 645.5,142.7 646.8,143.5 C648.0,144.3 649.2,144.9 650.5,145.5 C651.8,146.1 653.2,146.7 654.5,147.2 C655.8,147.7 657.4,148.2 658.0,148.4 L658.0,148.4 L558.0,148.4 Z" fill="rgba(163,227,247,0.6)"/><path d="M558.0,148.4 C559.3,148.1 563.5,147.3 566.0,146.5 C568.5,145.7 570.9,144.8 573.0,143.8 C575.1,142.8 576.8,141.7 578.5,140.5 C580.2,139.3 581.7,137.9 583.0,136.5 C584.3,135.1 585.4,133.7 586.5,132.0 C587.6,130.3 588.6,128.5 589.5,126.5 C590.4,124.5 591.1,122.2 591.8,120.0 C592.5,117.8 593.2,115.7 593.8,113.5 C594.4,111.3 595.0,109.2 595.6,107.0 C596.2,104.8 596.8,102.7 597.4,100.5 C598.0,98.3 598.7,95.9 599.5,94.0 C600.3,92.1 601.3,90.4 602.2,89.3 C603.1,88.2 604.2,87.4 605.1,87.2 C606.0,87.0 606.7,87.3 607.5,88.0 C608.3,88.7 609.1,89.8 610.0,91.5 C610.9,93.2 611.9,95.8 613.0,98.5 C614.1,101.2 615.5,104.7 616.7,107.5 C618.0,110.3 619.5,113.5 620.5,115.5 C621.5,117.5 622.1,118.1 623.0,119.3 C623.9,120.5 624.8,121.7 625.6,122.8 C626.4,123.9 627.2,125.0 628.0,126.0 C628.8,127.0 629.4,127.8 630.2,128.8 C631.0,129.8 632.0,131.0 633.0,132.0 C634.0,133.0 634.9,134.0 636.0,135.0 C637.1,136.0 638.3,137.0 639.5,138.0 C640.7,139.0 641.8,139.9 643.0,140.8 C644.2,141.7 645.5,142.7 646.8,143.5 C648.0,144.3 649.2,144.9 650.5,145.5 C651.8,146.1 653.2,146.7 654.5,147.2 C655.8,147.7 657.4,148.2 658.0,148.4" fill="none" stroke="#8cdcf4" stroke-width="0.8"/>
<path d="M557.0,148.4 C557.6,148.1 559.4,147.3 560.7,146.8 C562.0,146.3 563.6,145.9 565.0,145.5 C566.4,145.1 567.7,145.0 569.0,144.6 C570.3,144.2 571.6,143.8 573.0,143.2 C574.4,142.6 575.9,141.9 577.1,141.2 C578.4,140.5 579.4,139.6 580.5,138.8 C581.6,138.0 582.6,137.4 583.5,136.5 C584.4,135.6 585.2,134.6 586.0,133.5 C586.8,132.4 587.4,131.2 588.0,130.0 C588.6,128.8 589.2,127.4 589.8,126.0 C590.3,124.6 590.8,123.0 591.3,121.5 C591.8,120.0 592.2,118.5 592.7,117.0 C593.2,115.5 593.6,114.0 594.0,112.5 C594.4,111.0 594.9,109.5 595.3,108.0 C595.7,106.5 596.2,105.2 596.6,103.7 C597.0,102.2 597.4,100.6 597.8,99.2 C598.2,97.8 598.6,96.6 599.0,95.3 C599.4,94.0 599.9,92.5 600.3,91.5 C600.7,90.5 601.1,89.8 601.5,89.3 C601.9,88.8 602.2,88.3 602.6,88.2 C603.0,88.1 603.5,88.2 604.0,88.4 C604.5,88.6 605.0,89.1 605.5,89.5 C606.0,89.9 606.6,90.4 607.2,91.0 C607.8,91.6 608.4,92.2 609.0,93.0 C609.6,93.8 610.3,95.0 610.9,96.0 C611.5,97.0 612.1,97.9 612.8,99.2 C613.4,100.5 614.1,102.2 614.8,103.7 C615.4,105.2 616.1,106.8 616.7,108.2 C617.3,109.6 618.0,110.7 618.6,112.0 C619.2,113.3 619.8,114.6 620.5,115.9 C621.2,117.2 622.1,118.6 623.0,119.8 C623.9,121.0 624.8,122.0 625.6,123.2 C626.4,124.4 627.2,125.7 628.0,126.8 C628.8,127.9 629.5,128.7 630.3,129.6 C631.0,130.5 631.9,131.2 632.5,132.0 C633.1,132.8 633.3,133.8 634.0,134.6 C634.7,135.4 635.6,136.2 636.5,137.0 C637.4,137.8 638.4,138.6 639.4,139.4 C640.4,140.2 641.4,141.0 642.5,141.8 C643.6,142.6 644.6,143.3 645.8,144.0 C647.0,144.7 648.4,145.2 649.8,145.8 C651.2,146.4 652.8,146.9 654.0,147.3 C655.2,147.7 656.5,148.2 657.0,148.4 L657.0,148.4 L557.0,148.4 Z" fill="rgba(250,236,138,0.55)"/><path d="M557.0,148.4 C557.6,148.1 559.4,147.3 560.7,146.8 C562.0,146.3 563.6,145.9 565.0,145.5 C566.4,145.1 567.7,145.0 569.0,144.6 C570.3,144.2 571.6,143.8 573.0,143.2 C574.4,142.6 575.9,141.9 577.1,141.2 C578.4,140.5 579.4,139.6 580.5,138.8 C581.6,138.0 582.6,137.4 583.5,136.5 C584.4,135.6 585.2,134.6 586.0,133.5 C586.8,132.4 587.4,131.2 588.0,130.0 C588.6,128.8 589.2,127.4 589.8,126.0 C590.3,124.6 590.8,123.0 591.3,121.5 C591.8,120.0 592.2,118.5 592.7,117.0 C593.2,115.5 593.6,114.0 594.0,112.5 C594.4,111.0 594.9,109.5 595.3,108.0 C595.7,106.5 596.2,105.2 596.6,103.7 C597.0,102.2 597.4,100.6 597.8,99.2 C598.2,97.8 598.6,96.6 599.0,95.3 C599.4,94.0 599.9,92.5 600.3,91.5 C600.7,90.5 601.1,89.8 601.5,89.3 C601.9,88.8 602.2,88.3 602.6,88.2 C603.0,88.1 603.5,88.2 604.0,88.4 C604.5,88.6 605.0,89.1 605.5,89.5 C606.0,89.9 606.6,90.4 607.2,91.0 C607.8,91.6 608.4,92.2 609.0,93.0 C609.6,93.8 610.3,95.0 610.9,96.0 C611.5,97.0 612.1,97.9 612.8,99.2 C613.4,100.5 614.1,102.2 614.8,103.7 C615.4,105.2 616.1,106.8 616.7,108.2 C617.3,109.6 618.0,110.7 618.6,112.0 C619.2,113.3 619.8,114.6 620.5,115.9 C621.2,117.2 622.1,118.6 623.0,119.8 C623.9,121.0 624.8,122.0 625.6,123.2 C626.4,124.4 627.2,125.7 628.0,126.8 C628.8,127.9 629.5,128.7 630.3,129.6 C631.0,130.5 631.9,131.2 632.5,132.0 C633.1,132.8 633.3,133.8 634.0,134.6 C634.7,135.4 635.6,136.2 636.5,137.0 C637.4,137.8 638.4,138.6 639.4,139.4 C640.4,140.2 641.4,141.0 642.5,141.8 C643.6,142.6 644.6,143.3 645.8,144.0 C647.0,144.7 648.4,145.2 649.8,145.8 C651.2,146.4 652.8,146.9 654.0,147.3 C655.2,147.7 656.5,148.2 657.0,148.4" fill="none" stroke="#f6e282" stroke-width="0.8"/>
<path d="M560.0,199.0 C561.2,198.8 564.8,198.2 567.0,197.5 C569.2,196.8 571.2,195.8 573.0,194.5 C574.8,193.2 576.2,191.8 577.5,190.0 C578.8,188.2 579.7,186.2 580.5,184.0 C581.3,181.8 581.9,179.3 582.5,177.0 C583.1,174.7 583.5,172.0 584.0,170.0 C584.5,168.0 584.9,167.0 585.5,165.0 C586.1,163.0 587.0,160.0 587.5,158.0 C588.0,156.0 588.0,154.6 588.3,153.0 C588.6,151.4 588.9,150.0 589.2,148.5 C589.5,147.0 589.8,145.4 590.0,144.0 C590.2,142.6 590.5,141.3 590.7,140.0 C591.0,138.7 591.2,137.1 591.5,136.0 C591.8,134.9 592.0,134.0 592.5,133.2 C593.0,132.4 593.8,131.7 594.5,131.0 C595.2,130.3 596.1,129.6 596.8,128.8 C597.5,128.0 598.0,126.7 598.6,126.0 C599.2,125.3 599.6,124.7 600.2,124.8 C600.8,124.9 601.5,125.6 602.0,126.5 C602.5,127.4 602.9,128.9 603.3,130.3 C603.7,131.7 604.1,133.4 604.5,135.0 C604.9,136.6 605.2,138.2 605.5,139.6 C605.8,141.0 606.0,142.2 606.3,143.5 C606.5,144.8 606.7,146.0 607.0,147.3 C607.3,148.6 607.8,149.9 608.2,151.2 C608.6,152.5 608.9,153.5 609.2,155.0 C609.5,156.5 609.7,158.2 609.8,160.0 C609.9,161.8 609.8,164.0 610.0,166.0 C610.2,168.0 610.5,170.0 611.0,172.0 C611.5,174.0 612.2,176.0 613.0,178.0 C613.8,180.0 614.9,182.2 616.0,184.0 C617.1,185.8 618.2,187.5 619.5,189.0 C620.8,190.5 622.4,191.8 624.0,193.0 C625.6,194.2 627.3,195.4 629.0,196.3 C630.7,197.2 632.7,197.9 634.0,198.3 C635.3,198.8 636.5,198.9 637.0,199.0 L637.0,199.0 L560.0,199.0 Z" fill="rgba(244,143,177,0.4)"/><path d="M560.0,199.0 C561.2,198.8 564.8,198.2 567.0,197.5 C569.2,196.8 571.2,195.8 573.0,194.5 C574.8,193.2 576.2,191.8 577.5,190.0 C578.8,188.2 579.7,186.2 580.5,184.0 C581.3,181.8 581.9,179.3 582.5,177.0 C583.1,174.7 583.5,172.0 584.0,170.0 C584.5,168.0 584.9,167.0 585.5,165.0 C586.1,163.0 587.0,160.0 587.5,158.0 C588.0,156.0 588.0,154.6 588.3,153.0 C588.6,151.4 588.9,150.0 589.2,148.5 C589.5,147.0 589.8,145.4 590.0,144.0 C590.2,142.6 590.5,141.3 590.7,140.0 C591.0,138.7 591.2,137.1 591.5,136.0 C591.8,134.9 592.0,134.0 592.5,133.2 C593.0,132.4 593.8,131.7 594.5,131.0 C595.2,130.3 596.1,129.6 596.8,128.8 C597.5,128.0 598.0,126.7 598.6,126.0 C599.2,125.3 599.6,124.7 600.2,124.8 C600.8,124.9 601.5,125.6 602.0,126.5 C602.5,127.4 602.9,128.9 603.3,130.3 C603.7,131.7 604.1,133.4 604.5,135.0 C604.9,136.6 605.2,138.2 605.5,139.6 C605.8,141.0 606.0,142.2 606.3,143.5 C606.5,144.8 606.7,146.0 607.0,147.3 C607.3,148.6 607.8,149.9 608.2,151.2 C608.6,152.5 608.9,153.5 609.2,155.0 C609.5,156.5 609.7,158.2 609.8,160.0 C609.9,161.8 609.8,164.0 610.0,166.0 C610.2,168.0 610.5,170.0 611.0,172.0 C611.5,174.0 612.2,176.0 613.0,178.0 C613.8,180.0 614.9,182.2 616.0,184.0 C617.1,185.8 618.2,187.5 619.5,189.0 C620.8,190.5 622.4,191.8 624.0,193.0 C625.6,194.2 627.3,195.4 629.0,196.3 C630.7,197.2 632.7,197.9 634.0,198.3 C635.3,198.8 636.5,198.9 637.0,199.0" fill="none" stroke="#f6a8c6" stroke-width="0.8"/>
<path d="M540.0,199.0 C541.0,198.8 544.0,198.3 546.0,197.8 C548.0,197.3 550.1,196.7 552.0,196.0 C553.9,195.3 555.9,194.2 557.5,193.5 C559.1,192.8 560.2,192.3 561.5,191.5 C562.8,190.7 564.2,189.6 565.5,188.5 C566.8,187.4 568.3,186.2 569.5,185.0 C570.7,183.8 571.5,182.5 572.5,181.0 C573.5,179.5 574.6,177.7 575.5,176.0 C576.4,174.3 577.2,172.8 578.0,171.0 C578.8,169.2 579.8,167.3 580.5,165.5 C581.2,163.7 581.8,161.9 582.5,160.0 C583.2,158.1 583.8,155.8 584.5,154.0 C585.2,152.2 585.8,150.3 586.5,149.0 C587.2,147.7 587.8,146.8 588.5,146.0 C589.2,145.2 590.0,144.4 591.0,144.0 C592.0,143.6 593.5,143.1 594.7,143.3 C596.0,143.6 597.2,144.1 598.5,145.5 C599.8,146.9 601.2,149.7 602.4,151.5 C603.6,153.3 604.6,155.3 605.5,156.5 C606.4,157.7 606.9,158.1 607.5,158.8 C608.1,159.6 608.6,159.9 609.2,161.0 C609.8,162.1 610.4,164.1 611.0,165.6 C611.6,167.1 612.0,168.6 612.8,170.2 C613.5,171.8 614.6,173.6 615.5,175.3 C616.4,177.0 617.4,178.8 618.3,180.3 C619.2,181.8 620.2,183.0 621.1,184.4 C622.0,185.8 622.8,187.3 623.9,188.5 C625.0,189.7 626.3,190.4 627.5,191.3 C628.7,192.2 629.8,193.2 631.2,194.0 C632.6,194.8 634.3,195.5 635.8,196.2 C637.3,196.9 639.2,197.6 640.4,198.1 C641.6,198.6 642.6,198.8 643.0,199.0 L643.0,199.0 L540.0,199.0 Z" fill="rgba(163,227,247,0.6)"/><path d="M540.0,199.0 C541.0,198.8 544.0,198.3 546.0,197.8 C548.0,197.3 550.1,196.7 552.0,196.0 C553.9,195.3 555.9,194.2 557.5,193.5 C559.1,192.8 560.2,192.3 561.5,191.5 C562.8,190.7 564.2,189.6 565.5,188.5 C566.8,187.4 568.3,186.2 569.5,185.0 C570.7,183.8 571.5,182.5 572.5,181.0 C573.5,179.5 574.6,177.7 575.5,176.0 C576.4,174.3 577.2,172.8 578.0,171.0 C578.8,169.2 579.8,167.3 580.5,165.5 C581.2,163.7 581.8,161.9 582.5,160.0 C583.2,158.1 583.8,155.8 584.5,154.0 C585.2,152.2 585.8,150.3 586.5,149.0 C587.2,147.7 587.8,146.8 588.5,146.0 C589.2,145.2 590.0,144.4 591.0,144.0 C592.0,143.6 593.5,143.1 594.7,143.3 C596.0,143.6 597.2,144.1 598.5,145.5 C599.8,146.9 601.2,149.7 602.4,151.5 C603.6,153.3 604.6,155.3 605.5,156.5 C606.4,157.7 606.9,158.1 607.5,158.8 C608.1,159.6 608.6,159.9 609.2,161.0 C609.8,162.1 610.4,164.1 611.0,165.6 C611.6,167.1 612.0,168.6 612.8,170.2 C613.5,171.8 614.6,173.6 615.5,175.3 C616.4,177.0 617.4,178.8 618.3,180.3 C619.2,181.8 620.2,183.0 621.1,184.4 C622.0,185.8 622.8,187.3 623.9,188.5 C625.0,189.7 626.3,190.4 627.5,191.3 C628.7,192.2 629.8,193.2 631.2,194.0 C632.6,194.8 634.3,195.5 635.8,196.2 C637.3,196.9 639.2,197.6 640.4,198.1 C641.6,198.6 642.6,198.8 643.0,199.0" fill="none" stroke="#8cdcf4" stroke-width="0.8"/>
<path d="M534.6,199.0 C535.2,198.9 536.9,198.6 538.0,198.3 C539.1,198.0 539.7,197.7 541.0,197.2 C542.3,196.7 544.2,196.1 546.0,195.3 C547.8,194.6 550.1,193.5 552.0,192.7 C553.9,191.8 555.7,191.1 557.5,190.2 C559.3,189.3 561.3,188.3 562.9,187.2 C564.5,186.1 565.7,184.8 567.0,183.5 C568.3,182.2 569.5,180.9 570.6,179.5 C571.7,178.1 572.6,176.5 573.5,175.0 C574.4,173.5 575.4,172.1 576.1,170.7 C576.8,169.2 577.2,167.8 577.8,166.3 C578.3,164.9 578.9,163.6 579.4,162.0 C579.9,160.4 580.5,158.3 581.0,156.5 C581.5,154.7 582.1,152.5 582.7,151.0 C583.3,149.5 583.8,148.5 584.5,147.5 C585.2,146.5 586.0,145.7 587.0,145.0 C588.0,144.3 589.5,143.6 590.5,143.2 C591.5,142.8 592.4,142.6 593.2,142.6 C594.0,142.6 594.7,142.8 595.5,143.2 C596.3,143.6 597.0,144.2 597.8,145.1 C598.6,145.9 599.3,147.2 600.1,148.3 C600.9,149.4 601.6,150.6 602.4,151.8 C603.1,153.0 603.9,154.0 604.6,155.5 C605.3,157.0 605.9,159.2 606.5,161.0 C607.1,162.8 607.7,164.8 608.3,166.5 C608.9,168.2 609.5,169.7 610.1,171.2 C610.7,172.7 611.2,174.2 611.9,175.7 C612.6,177.2 613.4,178.8 614.2,180.3 C615.0,181.8 615.7,183.6 616.5,184.9 C617.3,186.2 618.3,187.2 619.2,188.3 C620.1,189.4 620.9,190.4 622.0,191.3 C623.1,192.2 624.5,193.0 625.7,193.8 C626.9,194.6 628.2,195.3 629.4,195.9 C630.6,196.5 631.8,197.0 633.0,197.4 C634.2,197.8 635.7,198.3 636.7,198.6 C637.7,198.9 638.6,198.9 639.0,199.0 L639.0,199.0 L534.6,199.0 Z" fill="rgba(250,236,138,0.55)"/><path d="M534.6,199.0 C535.2,198.9 536.9,198.6 538.0,198.3 C539.1,198.0 539.7,197.7 541.0,197.2 C542.3,196.7 544.2,196.1 546.0,195.3 C547.8,194.6 550.1,193.5 552.0,192.7 C553.9,191.8 555.7,191.1 557.5,190.2 C559.3,189.3 561.3,188.3 562.9,187.2 C564.5,186.1 565.7,184.8 567.0,183.5 C568.3,182.2 569.5,180.9 570.6,179.5 C571.7,178.1 572.6,176.5 573.5,175.0 C574.4,173.5 575.4,172.1 576.1,170.7 C576.8,169.2 577.2,167.8 577.8,166.3 C578.3,164.9 578.9,163.6 579.4,162.0 C579.9,160.4 580.5,158.3 581.0,156.5 C581.5,154.7 582.1,152.5 582.7,151.0 C583.3,149.5 583.8,148.5 584.5,147.5 C585.2,146.5 586.0,145.7 587.0,145.0 C588.0,144.3 589.5,143.6 590.5,143.2 C591.5,142.8 592.4,142.6 593.2,142.6 C594.0,142.6 594.7,142.8 595.5,143.2 C596.3,143.6 597.0,144.2 597.8,145.1 C598.6,145.9 599.3,147.2 600.1,148.3 C600.9,149.4 601.6,150.6 602.4,151.8 C603.1,153.0 603.9,154.0 604.6,155.5 C605.3,157.0 605.9,159.2 606.5,161.0 C607.1,162.8 607.7,164.8 608.3,166.5 C608.9,168.2 609.5,169.7 610.1,171.2 C610.7,172.7 611.2,174.2 611.9,175.7 C612.6,177.2 613.4,178.8 614.2,180.3 C615.0,181.8 615.7,183.6 616.5,184.9 C617.3,186.2 618.3,187.2 619.2,188.3 C620.1,189.4 620.9,190.4 622.0,191.3 C623.1,192.2 624.5,193.0 625.7,193.8 C626.9,194.6 628.2,195.3 629.4,195.9 C630.6,196.5 631.8,197.0 633.0,197.4 C634.2,197.8 635.7,198.3 636.7,198.6 C637.7,198.9 638.6,198.9 639.0,199.0" fill="none" stroke="#f6e282" stroke-width="0.8"/>
<path d="M524.4,249.6 C525.0,249.2 526.6,248.2 528.0,247.5 C529.4,246.8 531.3,245.7 532.6,245.4 C533.9,245.1 534.8,245.5 536.0,245.6 C537.2,245.7 538.8,246.0 540.0,246.0 C541.2,246.0 542.0,245.7 543.0,245.5 C544.0,245.3 544.9,244.7 546.1,244.6 C547.3,244.5 548.9,245.2 550.2,245.2 C551.5,245.2 552.8,244.9 554.0,244.6 C555.2,244.3 556.2,243.9 557.2,243.4 C558.2,242.9 559.1,242.4 560.0,241.8 C560.9,241.2 561.8,240.6 562.5,239.8 C563.2,239.0 563.9,238.0 564.5,237.0 C565.1,236.0 565.7,235.0 566.3,234.0 C566.9,233.0 567.4,231.9 568.0,231.0 C568.6,230.1 569.1,229.3 569.7,228.5 C570.3,227.7 571.1,226.8 571.8,226.0 C572.5,225.2 573.3,224.3 574.0,223.4 C574.7,222.5 575.5,221.7 576.2,220.8 C576.9,220.0 577.7,219.1 578.4,218.3 C579.1,217.5 579.7,216.7 580.3,215.8 C580.9,215.0 581.4,214.1 582.1,213.2 C582.8,212.3 583.6,211.2 584.3,210.2 C585.0,209.2 585.8,208.3 586.5,207.3 C587.2,206.3 588.0,205.4 588.7,204.4 C589.4,203.4 590.2,202.7 590.9,201.5 C591.6,200.3 592.2,198.8 593.0,197.3 C593.8,195.9 594.6,194.1 595.4,192.8 C596.1,191.6 596.8,190.5 597.5,189.8 C598.2,189.1 598.9,188.8 599.5,188.7 C600.1,188.6 600.6,188.9 601.0,189.3 C601.4,189.7 601.7,190.4 602.0,191.1 C602.3,191.8 602.7,192.7 603.0,193.5 C603.3,194.3 603.6,194.9 604.0,196.0 C604.4,197.1 604.8,198.5 605.3,200.0 C605.8,201.5 606.4,203.2 607.0,205.0 C607.6,206.8 608.3,208.8 609.0,211.0 C609.7,213.2 610.5,215.7 611.3,218.0 C612.1,220.3 612.9,222.7 613.8,225.0 C614.7,227.3 615.7,229.8 616.8,232.0 C617.9,234.2 619.1,236.5 620.5,238.5 C621.9,240.5 623.4,242.4 625.0,244.0 C626.6,245.6 628.3,247.1 630.0,248.0 C631.7,248.9 634.2,249.3 635.0,249.6 L635.0,249.6 L524.4,249.6 Z" fill="rgba(244,143,177,0.4)"/><path d="M524.4,249.6 C525.0,249.2 526.6,248.2 528.0,247.5 C529.4,246.8 531.3,245.7 532.6,245.4 C533.9,245.1 534.8,245.5 536.0,245.6 C537.2,245.7 538.8,246.0 540.0,246.0 C541.2,246.0 542.0,245.7 543.0,245.5 C544.0,245.3 544.9,244.7 546.1,244.6 C547.3,244.5 548.9,245.2 550.2,245.2 C551.5,245.2 552.8,244.9 554.0,244.6 C555.2,244.3 556.2,243.9 557.2,243.4 C558.2,242.9 559.1,242.4 560.0,241.8 C560.9,241.2 561.8,240.6 562.5,239.8 C563.2,239.0 563.9,238.0 564.5,237.0 C565.1,236.0 565.7,235.0 566.3,234.0 C566.9,233.0 567.4,231.9 568.0,231.0 C568.6,230.1 569.1,229.3 569.7,228.5 C570.3,227.7 571.1,226.8 571.8,226.0 C572.5,225.2 573.3,224.3 574.0,223.4 C574.7,222.5 575.5,221.7 576.2,220.8 C576.9,220.0 577.7,219.1 578.4,218.3 C579.1,217.5 579.7,216.7 580.3,215.8 C580.9,215.0 581.4,214.1 582.1,213.2 C582.8,212.3 583.6,211.2 584.3,210.2 C585.0,209.2 585.8,208.3 586.5,207.3 C587.2,206.3 588.0,205.4 588.7,204.4 C589.4,203.4 590.2,202.7 590.9,201.5 C591.6,200.3 592.2,198.8 593.0,197.3 C593.8,195.9 594.6,194.1 595.4,192.8 C596.1,191.6 596.8,190.5 597.5,189.8 C598.2,189.1 598.9,188.8 599.5,188.7 C600.1,188.6 600.6,188.9 601.0,189.3 C601.4,189.7 601.7,190.4 602.0,191.1 C602.3,191.8 602.7,192.7 603.0,193.5 C603.3,194.3 603.6,194.9 604.0,196.0 C604.4,197.1 604.8,198.5 605.3,200.0 C605.8,201.5 606.4,203.2 607.0,205.0 C607.6,206.8 608.3,208.8 609.0,211.0 C609.7,213.2 610.5,215.7 611.3,218.0 C612.1,220.3 612.9,222.7 613.8,225.0 C614.7,227.3 615.7,229.8 616.8,232.0 C617.9,234.2 619.1,236.5 620.5,238.5 C621.9,240.5 623.4,242.4 625.0,244.0 C626.6,245.6 628.3,247.1 630.0,248.0 C631.7,248.9 634.2,249.3 635.0,249.6" fill="none" stroke="#f6a8c6" stroke-width="0.8"/>
<path d="M537.3,249.6 C538.4,249.4 541.9,249.0 544.0,248.6 C546.1,248.2 548.5,247.4 550.2,247.0 C552.0,246.6 553.1,246.5 554.5,246.2 C555.9,245.9 557.2,245.6 558.4,245.2 C559.6,244.8 560.5,244.2 561.5,243.5 C562.5,242.8 563.4,242.0 564.2,241.1 C565.0,240.2 565.7,239.2 566.5,238.2 C567.3,237.2 568.2,236.2 568.9,235.2 C569.6,234.2 570.0,233.2 570.6,232.3 C571.2,231.4 571.8,230.6 572.4,229.8 C573.0,229.0 573.6,228.2 574.2,227.5 C574.8,226.8 575.4,226.3 576.0,225.5 C576.6,224.7 577.3,223.5 578.0,222.5 C578.7,221.5 579.3,220.5 580.0,219.5 C580.7,218.5 581.3,217.5 582.0,216.5 C582.7,215.5 583.2,214.7 584.0,213.5 C584.8,212.3 585.7,210.8 586.5,209.5 C587.3,208.2 588.2,206.8 589.0,205.5 C589.8,204.2 590.7,202.7 591.5,201.5 C592.3,200.3 593.1,199.1 593.8,198.2 C594.5,197.2 595.2,196.5 595.8,195.8 C596.4,195.1 596.9,194.5 597.5,194.1 C598.1,193.7 598.8,193.6 599.5,193.6 C600.2,193.6 600.8,193.8 601.5,194.2 C602.2,194.6 602.9,195.3 603.5,196.0 C604.1,196.7 604.5,197.1 605.2,198.5 C605.9,199.9 606.9,202.6 607.7,204.7 C608.5,206.8 609.1,208.6 610.1,210.8 C611.1,213.1 612.6,215.8 613.8,218.2 C615.0,220.6 616.1,223.1 617.5,225.5 C618.9,227.9 620.8,230.6 622.4,232.9 C624.0,235.2 625.7,237.2 627.3,239.1 C628.9,240.9 630.4,242.4 632.2,244.0 C634.1,245.6 636.8,247.5 638.4,248.4 C640.0,249.3 641.4,249.4 642.0,249.6 L642.0,249.6 L537.3,249.6 Z" fill="rgba(163,227,247,0.6)"/><path d="M537.3,249.6 C538.4,249.4 541.9,249.0 544.0,248.6 C546.1,248.2 548.5,247.4 550.2,247.0 C552.0,246.6 553.1,246.5 554.5,246.2 C555.9,245.9 557.2,245.6 558.4,245.2 C559.6,244.8 560.5,244.2 561.5,243.5 C562.5,242.8 563.4,242.0 564.2,241.1 C565.0,240.2 565.7,239.2 566.5,238.2 C567.3,237.2 568.2,236.2 568.9,235.2 C569.6,234.2 570.0,233.2 570.6,232.3 C571.2,231.4 571.8,230.6 572.4,229.8 C573.0,229.0 573.6,228.2 574.2,227.5 C574.8,226.8 575.4,226.3 576.0,225.5 C576.6,224.7 577.3,223.5 578.0,222.5 C578.7,221.5 579.3,220.5 580.0,219.5 C580.7,218.5 581.3,217.5 582.0,216.5 C582.7,215.5 583.2,214.7 584.0,213.5 C584.8,212.3 585.7,210.8 586.5,209.5 C587.3,208.2 588.2,206.8 589.0,205.5 C589.8,204.2 590.7,202.7 591.5,201.5 C592.3,200.3 593.1,199.1 593.8,198.2 C594.5,197.2 595.2,196.5 595.8,195.8 C596.4,195.1 596.9,194.5 597.5,194.1 C598.1,193.7 598.8,193.6 599.5,193.6 C600.2,193.6 600.8,193.8 601.5,194.2 C602.2,194.6 602.9,195.3 603.5,196.0 C604.1,196.7 604.5,197.1 605.2,198.5 C605.9,199.9 606.9,202.6 607.7,204.7 C608.5,206.8 609.1,208.6 610.1,210.8 C611.1,213.1 612.6,215.8 613.8,218.2 C615.0,220.6 616.1,223.1 617.5,225.5 C618.9,227.9 620.8,230.6 622.4,232.9 C624.0,235.2 625.7,237.2 627.3,239.1 C628.9,240.9 630.4,242.4 632.2,244.0 C634.1,245.6 636.8,247.5 638.4,248.4 C640.0,249.3 641.4,249.4 642.0,249.6" fill="none" stroke="#8cdcf4" stroke-width="0.8"/>
<path d="M518.5,249.6 C519.5,249.2 522.4,247.7 524.4,247.0 C526.4,246.3 528.6,245.6 530.2,245.2 C531.9,244.8 532.9,244.6 534.3,244.6 C535.7,244.6 536.9,245.1 538.4,245.2 C539.9,245.2 541.5,245.1 543.1,244.9 C544.7,244.7 546.2,244.3 547.8,244.0 C549.4,243.7 550.9,243.3 552.5,242.9 C554.1,242.5 555.9,242.0 557.2,241.5 C558.5,241.0 559.5,240.5 560.5,239.8 C561.5,239.1 562.2,238.4 563.0,237.5 C563.8,236.6 564.4,235.6 565.0,234.5 C565.6,233.4 566.1,232.2 566.7,231.0 C567.3,229.8 567.9,228.6 568.5,227.5 C569.1,226.4 569.6,225.5 570.3,224.5 C571.0,223.5 571.8,222.4 572.5,221.5 C573.2,220.6 573.8,219.9 574.8,219.0 C575.8,218.1 577.2,217.1 578.4,216.1 C579.6,215.1 581.0,213.9 582.1,213.2 C583.2,212.5 583.8,212.7 584.9,211.9 C586.0,211.1 587.5,209.5 588.6,208.2 C589.7,206.8 590.6,204.9 591.5,203.8 C592.4,202.7 593.1,202.1 593.8,201.6 C594.5,201.1 595.2,200.9 595.9,200.9 C596.6,200.9 597.3,201.1 598.0,201.6 C598.7,202.1 599.6,203.1 600.3,204.2 C601.0,205.3 601.6,206.7 602.2,208.0 C602.8,209.3 603.4,210.7 604.0,212.0 C604.6,213.3 605.2,214.6 605.8,215.8 C606.4,217.0 607.0,218.1 607.7,219.4 C608.4,220.7 609.3,222.3 610.1,223.7 C610.9,225.1 611.8,226.7 612.6,228.0 C613.4,229.3 614.2,230.5 615.0,231.7 C615.8,232.9 616.7,234.3 617.5,235.4 C618.3,236.5 619.2,237.5 620.0,238.5 C620.8,239.5 621.5,240.6 622.4,241.5 C623.3,242.4 624.5,243.2 625.5,244.0 C626.5,244.8 627.4,245.6 628.5,246.4 C629.6,247.2 630.9,248.1 632.0,248.6 C633.1,249.1 634.5,249.4 635.0,249.6 L635.0,249.6 L518.5,249.6 Z" fill="rgba(250,236,138,0.55)"/><path d="M518.5,249.6 C519.5,249.2 522.4,247.7 524.4,247.0 C526.4,246.3 528.6,245.6 530.2,245.2 C531.9,244.8 532.9,244.6 534.3,244.6 C535.7,244.6 536.9,245.1 538.4,245.2 C539.9,245.2 541.5,245.1 543.1,244.9 C544.7,244.7 546.2,244.3 547.8,244.0 C549.4,243.7 550.9,243.3 552.5,242.9 C554.1,242.5 555.9,242.0 557.2,241.5 C558.5,241.0 559.5,240.5 560.5,239.8 C561.5,239.1 562.2,238.4 563.0,237.5 C563.8,236.6 564.4,235.6 565.0,234.5 C565.6,233.4 566.1,232.2 566.7,231.0 C567.3,229.8 567.9,228.6 568.5,227.5 C569.1,226.4 569.6,225.5 570.3,224.5 C571.0,223.5 571.8,222.4 572.5,221.5 C573.2,220.6 573.8,219.9 574.8,219.0 C575.8,218.1 577.2,217.1 578.4,216.1 C579.6,215.1 581.0,213.9 582.1,213.2 C583.2,212.5 583.8,212.7 584.9,211.9 C586.0,211.1 587.5,209.5 588.6,208.2 C589.7,206.8 590.6,204.9 591.5,203.8 C592.4,202.7 593.1,202.1 593.8,201.6 C594.5,201.1 595.2,200.9 595.9,200.9 C596.6,200.9 597.3,201.1 598.0,201.6 C598.7,202.1 599.6,203.1 600.3,204.2 C601.0,205.3 601.6,206.7 602.2,208.0 C602.8,209.3 603.4,210.7 604.0,212.0 C604.6,213.3 605.2,214.6 605.8,215.8 C606.4,217.0 607.0,218.1 607.7,219.4 C608.4,220.7 609.3,222.3 610.1,223.7 C610.9,225.1 611.8,226.7 612.6,228.0 C613.4,229.3 614.2,230.5 615.0,231.7 C615.8,232.9 616.7,234.3 617.5,235.4 C618.3,236.5 619.2,237.5 620.0,238.5 C620.8,239.5 621.5,240.6 622.4,241.5 C623.3,242.4 624.5,243.2 625.5,244.0 C626.5,244.8 627.4,245.6 628.5,246.4 C629.6,247.2 630.9,248.1 632.0,248.6 C633.1,249.1 634.5,249.4 635.0,249.6" fill="none" stroke="#f6e282" stroke-width="0.8"/>
<line x1="202.6" y1="69.3" x2="243.6" y2="69.3" stroke="rgba(31,158,140,0.7)" stroke-width="0.6"/>
<circle cx="223.0" cy="69.3" r="1.25" fill="#138b79"/>
<text x="246.8" y="71.7" class="v" fill="#1f9e8c" stroke="#1f9e8c" textLength="34.6" lengthAdjust="spacingAndGlyphs">1.94±2.95</text>
<line x1="203.0" y1="117.6" x2="232.3" y2="117.6" stroke="rgba(31,158,140,0.7)" stroke-width="0.6"/>
<circle cx="217.6" cy="117.6" r="1.25" fill="#138b79"/>
<text x="235.0" y="120.0" class="v" fill="#1f9e8c" stroke="#1f9e8c" textLength="34.5" lengthAdjust="spacingAndGlyphs">1.12±2.16</text>
<line x1="183.2" y1="171.4" x2="219.4" y2="171.4" stroke="rgba(31,158,140,0.7)" stroke-width="0.6"/>
<circle cx="201.2" cy="171.4" r="1.25" fill="#138b79"/>
<text x="221.5" y="173.8" class="v" fill="#1f9e8c" stroke="#1f9e8c" textLength="38.3" lengthAdjust="spacingAndGlyphs">−1.47±2.51</text>
<line x1="180.2" y1="227.7" x2="221.0" y2="227.7" stroke="rgba(31,158,140,0.7)" stroke-width="0.6"/>
<circle cx="200.5" cy="227.7" r="1.25" fill="#138b79"/>
<text x="224.6" y="230.1" class="v" fill="#1f9e8c" stroke="#1f9e8c" textLength="39.9" lengthAdjust="spacingAndGlyphs">−1.53±2.90</text>
<line x1="408.2" y1="60.1" x2="440.0" y2="60.1" stroke="rgba(200,60,190,0.72)" stroke-width="0.6"/>
<circle cx="424.1" cy="60.1" r="1.25" fill="#c0109c"/>
<text x="445.2" y="62.5" class="v" fill="#c21aa0" stroke="#c21aa0" textLength="34.0" lengthAdjust="spacingAndGlyphs">2.49±2.73</text>
<line x1="401.4" y1="70.5" x2="433.6" y2="70.5" stroke="rgba(30,140,40,0.65)" stroke-width="0.6"/>
<circle cx="417.6" cy="70.5" r="1.25" fill="#157a1c"/>
<text x="442.8" y="72.9" class="v" fill="#238a2a" stroke="#238a2a" textLength="33.8" lengthAdjust="spacingAndGlyphs">1.46±3.05</text>
<line x1="405.0" y1="117.3" x2="426.8" y2="117.3" stroke="rgba(200,60,190,0.72)" stroke-width="0.6"/>
<circle cx="416.0" cy="117.3" r="1.25" fill="#c0109c"/>
<text x="431.5" y="119.7" class="v" fill="#c21aa0" stroke="#c21aa0" textLength="33.5" lengthAdjust="spacingAndGlyphs">1.24±2.01</text>
<line x1="401.8" y1="128.3" x2="427.3" y2="128.3" stroke="rgba(30,140,40,0.65)" stroke-width="0.6"/>
<circle cx="414.6" cy="128.3" r="1.25" fill="#157a1c"/>
<text x="432.9" y="130.7" class="v" fill="#238a2a" stroke="#238a2a" textLength="33.6" lengthAdjust="spacingAndGlyphs">1.01±2.28</text>
<line x1="386.0" y1="162.0" x2="413.6" y2="162.0" stroke="rgba(200,60,190,0.72)" stroke-width="0.6"/>
<circle cx="399.7" cy="162.0" r="1.25" fill="#c0109c"/>
<text x="417.8" y="164.4" class="v" fill="#c21aa0" stroke="#c21aa0" textLength="38.6" lengthAdjust="spacingAndGlyphs">−1.26±2.32</text>
<line x1="382.4" y1="173.4" x2="413.6" y2="173.4" stroke="rgba(30,140,40,0.65)" stroke-width="0.6"/>
<circle cx="397.4" cy="173.4" r="1.25" fill="#157a1c"/>
<text x="418.9" y="175.8" class="v" fill="#238a2a" stroke="#238a2a" textLength="39.2" lengthAdjust="spacingAndGlyphs">−1.65±2.65</text>
<line x1="386.4" y1="218.8" x2="415.9" y2="218.8" stroke="rgba(200,60,190,0.72)" stroke-width="0.6"/>
<circle cx="401.3" cy="218.8" r="1.25" fill="#c0109c"/>
<text x="420.2" y="221.2" class="v" fill="#c21aa0" stroke="#c21aa0" textLength="39.3" lengthAdjust="spacingAndGlyphs">−1.09±2.58</text>
<line x1="377.9" y1="229.3" x2="413.7" y2="229.3" stroke="rgba(30,140,40,0.65)" stroke-width="0.6"/>
<circle cx="396.1" cy="229.3" r="1.25" fill="#157a1c"/>
<text x="419.4" y="231.7" class="v" fill="#238a2a" stroke="#238a2a" textLength="39.0" lengthAdjust="spacingAndGlyphs">−1.92±3.10</text>
<line x1="602.3" y1="64.1" x2="629.7" y2="64.1" stroke="rgba(235,80,140,0.72)" stroke-width="0.6"/>
<circle cx="615.9" cy="64.1" r="1.25" fill="#e5337e"/>
<text x="633.4" y="66.5" class="v" fill="#e6408a" stroke="#e6408a" textLength="33.9" lengthAdjust="spacingAndGlyphs">2.03±2.67</text>
<line x1="603.1" y1="72.5" x2="632.6" y2="72.5" stroke="rgba(30,175,215,0.72)" stroke-width="0.6"/>
<circle cx="618.0" cy="72.5" r="1.25" fill="#119dd0"/>
<text x="635.0" y="74.9" class="v" fill="#22a8da" stroke="#22a8da" textLength="33.0" lengthAdjust="spacingAndGlyphs">2.39±2.80</text>
<line x1="595.3" y1="79.8" x2="627.6" y2="79.8" stroke="rgba(242,150,40,0.62)" stroke-width="0.6"/>
<circle cx="611.0" cy="79.8" r="1.25" fill="#ec8e12"/>
<text x="631.8" y="82.2" class="v" fill="#ef9a25" stroke="#ef9a25" textLength="32.9" lengthAdjust="spacingAndGlyphs">1.30±3.08</text>
<line x1="598.5" y1="104.3" x2="619.0" y2="104.3" stroke="rgba(235,80,140,0.72)" stroke-width="0.6"/>
<circle cx="608.4" cy="104.3" r="1.25" fill="#e5337e"/>
<text x="625.0" y="106.7" class="v" fill="#e6408a" stroke="#e6408a" textLength="36.2" lengthAdjust="spacingAndGlyphs">0.90±1.97</text>
<line x1="600.0" y1="112.9" x2="621.3" y2="112.9" stroke="rgba(30,175,215,0.72)" stroke-width="0.6"/>
<circle cx="611.0" cy="112.9" r="1.25" fill="#119dd0"/>
<text x="624.9" y="115.3" class="v" fill="#22a8da" stroke="#22a8da" textLength="35.8" lengthAdjust="spacingAndGlyphs">1.26±2.07</text>
<line x1="597.4" y1="120.6" x2="620.8" y2="120.6" stroke="rgba(242,150,40,0.62)" stroke-width="0.6"/>
<circle cx="609.3" cy="120.6" r="1.25" fill="#ec8e12"/>
<text x="626.5" y="123.0" class="v" fill="#ef9a25" stroke="#ef9a25" textLength="36.5" lengthAdjust="spacingAndGlyphs">0.98±2.29</text>
<line x1="586.1" y1="164.1" x2="603.6" y2="164.1" stroke="rgba(235,80,140,0.72)" stroke-width="0.6"/>
<circle cx="594.7" cy="164.1" r="1.25" fill="#e5337e"/>
<text x="609.4" y="166.5" class="v" fill="#e6408a" stroke="#e6408a" textLength="38.9" lengthAdjust="spacingAndGlyphs">−1.27±1.65</text>
<line x1="582.0" y1="174.1" x2="606.8" y2="174.1" stroke="rgba(30,175,215,0.72)" stroke-width="0.6"/>
<circle cx="595.3" cy="174.1" r="1.25" fill="#119dd0"/>
<text x="612.2" y="176.5" class="v" fill="#22a8da" stroke="#22a8da" textLength="38.8" lengthAdjust="spacingAndGlyphs">−1.17±2.46</text>
<line x1="576.2" y1="183.5" x2="604.0" y2="183.5" stroke="rgba(242,150,40,0.62)" stroke-width="0.6"/>
<circle cx="590.6" cy="183.5" r="1.25" fill="#ec8e12"/>
<text x="609.4" y="185.9" class="v" fill="#ef9a25" stroke="#ef9a25" textLength="40.0" lengthAdjust="spacingAndGlyphs">−1.94±2.59</text>
<line x1="576.2" y1="212.4" x2="603.8" y2="212.4" stroke="rgba(235,80,140,0.72)" stroke-width="0.6"/>
<circle cx="590.2" cy="212.4" r="1.25" fill="#e5337e"/>
<text x="607.4" y="214.8" class="v" fill="#e6408a" stroke="#e6408a" textLength="39.3" lengthAdjust="spacingAndGlyphs">−1.97±2.73</text>
<line x1="583.5" y1="222.5" x2="608.9" y2="222.5" stroke="rgba(30,175,215,0.72)" stroke-width="0.6"/>
<circle cx="596.8" cy="222.5" r="1.25" fill="#119dd0"/>
<text x="611.5" y="224.9" class="v" fill="#22a8da" stroke="#22a8da" textLength="40.7" lengthAdjust="spacingAndGlyphs">−0.96±2.47</text>
<line x1="572.1" y1="232.5" x2="605.5" y2="232.5" stroke="rgba(242,150,40,0.62)" stroke-width="0.6"/>
<circle cx="588.8" cy="232.5" r="1.25" fill="#ec8e12"/>
<text x="610.8" y="234.9" class="v" fill="#ef9a25" stroke="#ef9a25" textLength="39.9" lengthAdjust="spacingAndGlyphs">−2.19±3.26</text>
<text x="115.3" y="258.9" class="tk" text-anchor="middle">−15</text>
<text x="147.8" y="258.9" class="tk" text-anchor="middle">−10</text>
<text x="179.2" y="258.9" class="tk" text-anchor="middle">−5</text>
<text x="209.6" y="258.9" class="tk" text-anchor="middle">0</text>
<text x="241.9" y="258.9" class="tk" text-anchor="middle">5</text>
<text x="275.8" y="258.9" class="tk" text-anchor="middle">10</text>
<text x="313.1" y="258.8" class="tk" text-anchor="middle">−15</text>
<text x="345.7" y="258.8" class="tk" text-anchor="middle">−10</text>
<text x="377.2" y="258.8" class="tk" text-anchor="middle">−5</text>
<text x="407.7" y="258.8" class="tk" text-anchor="middle">0</text>
<text x="440.1" y="258.8" class="tk" text-anchor="middle">5</text>
<text x="474.1" y="258.8" class="tk" text-anchor="middle">10</text>
<text x="507.4" y="258.4" class="tk" text-anchor="middle">−15</text>
<text x="540.0" y="258.4" class="tk" text-anchor="middle">−10</text>
<text x="571.6" y="258.4" class="tk" text-anchor="middle">−5</text>
<text x="602.1" y="258.4" class="tk" text-anchor="middle">0</text>
<text x="634.6" y="258.4" class="tk" text-anchor="middle">5</text>
<text x="668.7" y="258.4" class="tk" text-anchor="middle">10</text>
<text x="194.5" y="266.9" class="ax" text-anchor="middle">PFI</text>
<text x="389.3" y="268.6" class="ax" text-anchor="middle">PFI</text>
<text x="585.9" y="268.1" class="ax" text-anchor="middle">PFI</text>
<rect x="108.5" y="23.7" width="5.0" height="5.0" fill="rgba(64,206,182,0.42)" stroke="#3ddcc3" stroke-width="0.8"/><text x="117.6" y="29.2" class="lg">Total</text>
<text x="308.4" y="28.7" class="lg">Sex</text>
<rect x="308.9" y="32.8" width="5.0" height="5.0" fill="rgba(218,112,214,0.3)" stroke="#e6a8ea" stroke-width="0.8"/><text x="317.5" y="38.3" class="lg">Girls</text>
<rect x="308.9" y="42.8" width="5.0" height="5.0" fill="rgba(151,233,164,0.55)" stroke="#86e896" stroke-width="0.8"/><text x="317.5" y="48.0" class="lg">Boys</text>
<text x="506.9" y="28.7" class="lg">BMI Status</text>
<rect x="507.4" y="33.0" width="5.0" height="5.0" fill="rgba(244,143,177,0.4)" stroke="#f7a8c4" stroke-width="0.8"/><text x="516.0" y="38.8" class="lg">Thinness</text>
<rect x="507.4" y="44.0" width="5.0" height="5.0" fill="rgba(163,227,247,0.6)" stroke="#94dcf2" stroke-width="0.8"/><text x="516.0" y="49.8" class="lg">Normal Weight</text>
<rect x="507.4" y="55.2" width="5.0" height="5.0" fill="rgba(250,236,138,0.55)" stroke="#f5e08a" stroke-width="0.8"/><text x="516.0" y="60.8" class="lg">OWOB</text>
<rect x="102.8" y="17.4" width="191.45" height="253.8" fill="none" stroke="#767676" stroke-width="1.1"/>
<rect x="297.4" y="17.4" width="191.50" height="253.8" fill="none" stroke="#767676" stroke-width="1.1"/>
<rect x="492.3" y="17.4" width="191.10" height="253.8" fill="none" stroke="#767676" stroke-width="1.1"/>
</svg>
</body></html>
